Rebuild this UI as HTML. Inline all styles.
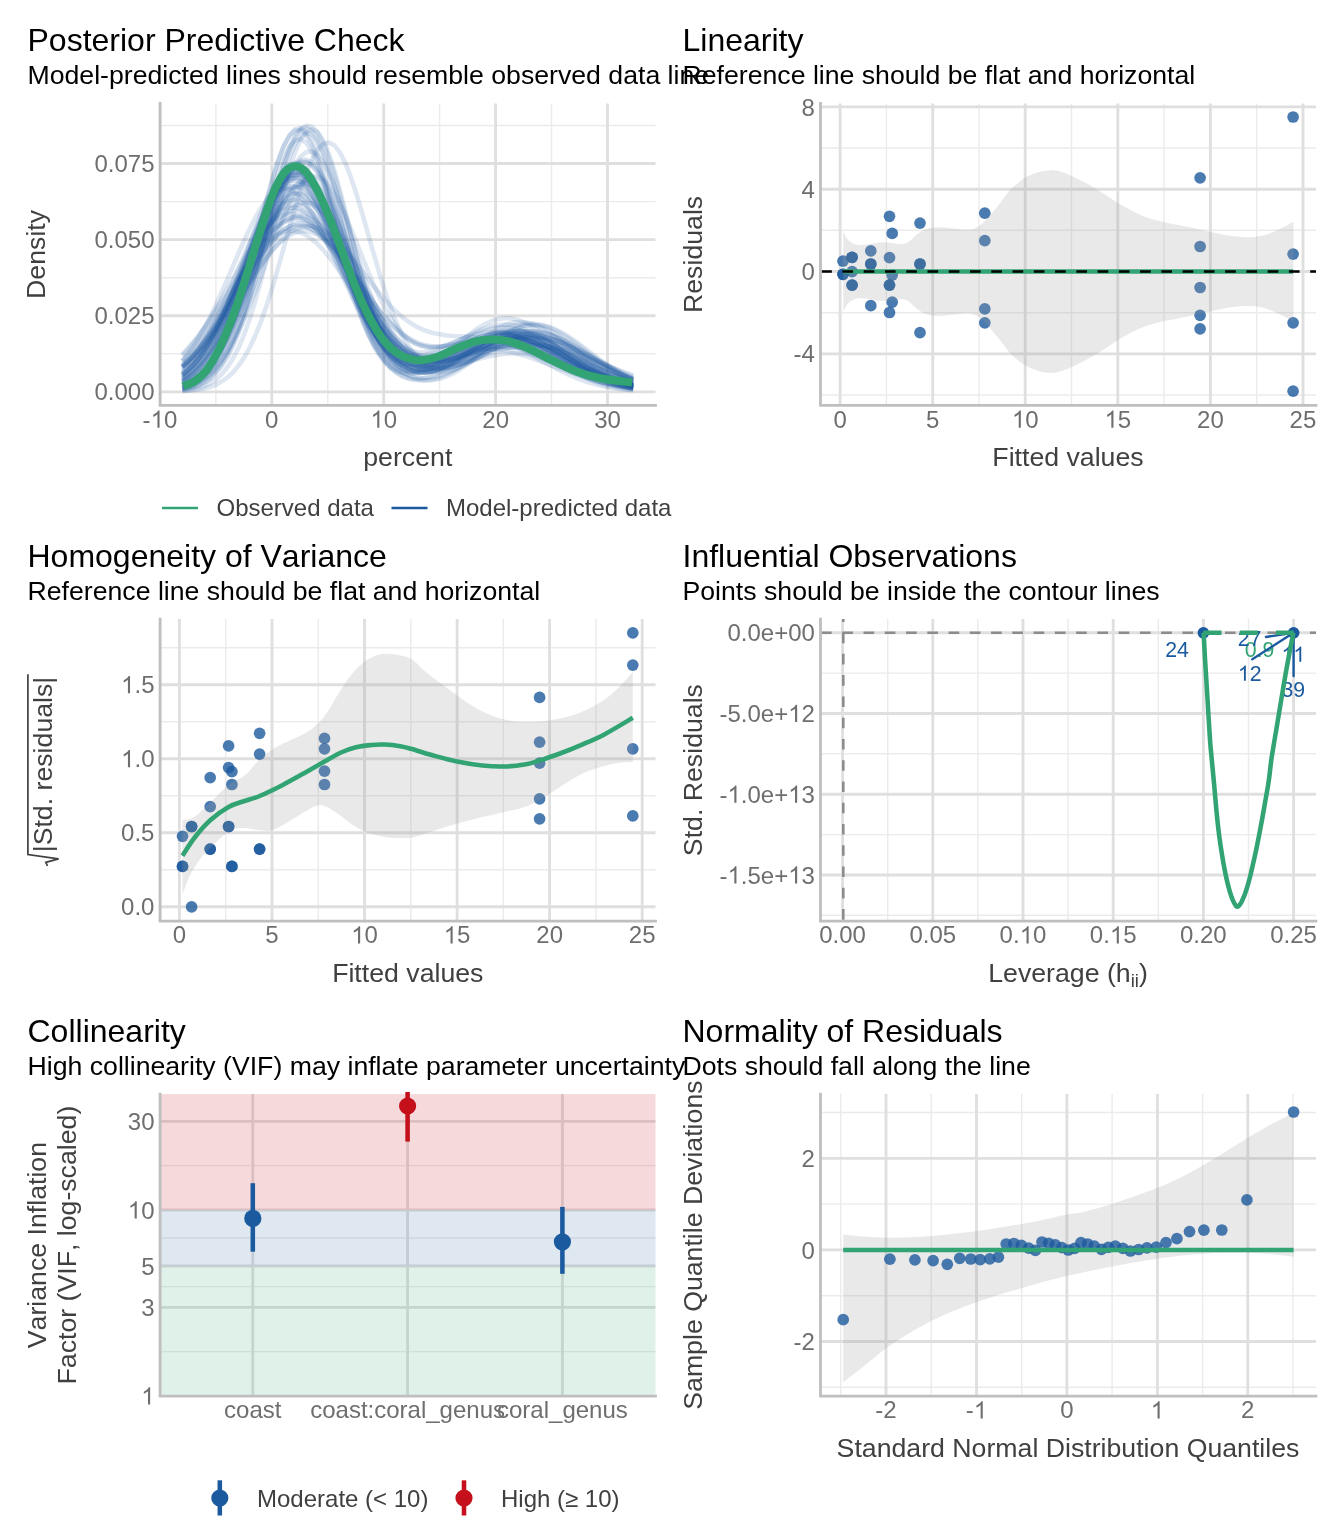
<!DOCTYPE html><html><head><meta charset="utf-8"><style>html,body{margin:0;padding:0;background:#fff}svg{display:block;will-change:transform}text{font-family:"Liberation Sans",sans-serif;font-kerning:none;font-variant-ligatures:none}</style></head><body>
<svg width="1344" height="1536" viewBox="0 0 1344 1536">
<rect width="1344" height="1536" fill="#fff"/>
<g id="p1">
<path d="M160.1 353.8H655.5" stroke="#ebebeb" stroke-width="1.42"/>
<path d="M160.1 277.7H655.5" stroke="#ebebeb" stroke-width="1.42"/>
<path d="M160.1 201.6H655.5" stroke="#ebebeb" stroke-width="1.42"/>
<path d="M160.1 125.5H655.5" stroke="#ebebeb" stroke-width="1.42"/>
<path d="M215.9 103.4V405.4" stroke="#ebebeb" stroke-width="1.42"/>
<path d="M327.8 103.4V405.4" stroke="#ebebeb" stroke-width="1.42"/>
<path d="M439.6 103.4V405.4" stroke="#ebebeb" stroke-width="1.42"/>
<path d="M551.5 103.4V405.4" stroke="#ebebeb" stroke-width="1.42"/>
<path d="M160.1 391.8H655.5" stroke="#dfdfdf" stroke-width="2.85"/>
<path d="M160.1 315.7H655.5" stroke="#dfdfdf" stroke-width="2.85"/>
<path d="M160.1 239.6H655.5" stroke="#dfdfdf" stroke-width="2.85"/>
<path d="M160.1 163.5H655.5" stroke="#dfdfdf" stroke-width="2.85"/>
<path d="M271.8 103.4V405.4" stroke="#dfdfdf" stroke-width="2.85"/>
<path d="M383.7 103.4V405.4" stroke="#dfdfdf" stroke-width="2.85"/>
<path d="M495.6 103.4V405.4" stroke="#dfdfdf" stroke-width="2.85"/>
<path d="M607.5 103.4V405.4" stroke="#dfdfdf" stroke-width="2.85"/>
<g fill="none" stroke="#1b5a9e" stroke-width="4.55" stroke-opacity="0.15" stroke-linejoin="round">
<path d="M182.3 389.9 L187.9 388.8 L193.6 387.3 L199.2 385 L204.8 381.9 L210.5 377.6 L216.1 371.9 L221.7 364.4 L227.4 354.9 L233 343.2 L238.6 329.1 L244.3 312.5 L249.9 293.6 L255.6 272.7 L261.2 250.3 L266.8 227.2 L272.5 204.3 L278.1 182.6 L283.7 163.3 L289.4 147.3 L295 135.6 L300.7 128.8 L306.3 127.4 L311.9 131.5 L317.6 140.8 L323.2 154.8 L328.8 172.5 L334.5 193 L340.1 215.2 L345.8 238 L351.4 260.4 L357 281.6 L362.7 300.9 L368.3 317.9 L373.9 332.3 L379.6 344.2 L385.2 353.6 L390.8 360.6 L396.5 365.6 L402.1 368.8 L407.8 370.5 L413.4 371 L419 370.5 L424.7 369.2 L430.3 367.4 L435.9 365.1 L441.6 362.6 L447.2 359.8 L452.9 356.9 L458.5 354 L464.1 351.2 L469.8 348.5 L475.4 346 L481 343.7 L486.7 341.8 L492.3 340.2 L497.9 339 L503.6 338.3 L509.2 338 L514.9 338.2 L520.5 338.8 L526.1 339.9 L531.8 341.3 L537.4 343.2 L543 345.4 L548.7 347.9 L554.3 350.6 L560 353.4 L565.6 356.4 L571.2 359.4 L576.9 362.4 L582.5 365.4 L588.1 368.2 L593.8 371 L599.4 373.5 L605.1 375.9 L610.7 378.1 L616.3 380.1 L622 381.9 L627.6 383.5 L633.2 384.9"/>
<path d="M182.3 373.9 L187.9 369.4 L193.6 364 L199.2 357.8 L204.8 350.6 L210.5 342.5 L216.1 333.4 L221.7 323.4 L227.4 312.6 L233 301.1 L238.6 289 L244.3 276.7 L249.9 264.4 L255.6 252.2 L261.2 240.6 L266.8 229.9 L272.5 220.4 L278.1 212.3 L283.7 205.9 L289.4 201.4 L295 198.9 L300.7 198.6 L306.3 200.4 L311.9 204.4 L317.6 210.2 L323.2 217.8 L328.8 226.9 L334.5 237.2 L340.1 248.4 L345.8 260.2 L351.4 272.3 L357 284.3 L362.7 296.1 L368.3 307.2 L373.9 317.6 L379.6 327.1 L385.2 335.6 L390.8 342.9 L396.5 349.2 L402.1 354.3 L407.8 358.3 L413.4 361.2 L419 363.1 L424.7 364.2 L430.3 364.5 L435.9 364 L441.6 362.9 L447.2 361.4 L452.9 359.4 L458.5 357.1 L464.1 354.6 L469.8 352.1 L475.4 349.5 L481 347 L486.7 344.6 L492.3 342.5 L497.9 340.7 L503.6 339.3 L509.2 338.2 L514.9 337.6 L520.5 337.5 L526.1 337.8 L531.8 338.5 L537.4 339.8 L543 341.4 L548.7 343.4 L554.3 345.7 L560 348.3 L565.6 351.1 L571.2 354 L576.9 357.1 L582.5 360.1 L588.1 363.2 L593.8 366.2 L599.4 369 L605.1 371.8 L610.7 374.3 L616.3 376.7 L622 378.8 L627.6 380.8 L633.2 382.5"/>
<path d="M182.3 383.7 L187.9 380.9 L193.6 377.4 L199.2 373 L204.8 367.6 L210.5 361.1 L216.1 353.3 L221.7 344.3 L227.4 334.1 L233 322.5 L238.6 309.8 L244.3 296.2 L249.9 281.8 L255.6 267 L261.2 252.2 L266.8 237.8 L272.5 224.2 L278.1 212.1 L283.7 201.7 L289.4 193.5 L295 187.8 L300.7 184.9 L306.3 184.8 L311.9 187.5 L317.6 193 L323.2 201 L328.8 211.1 L334.5 223 L340.1 236.2 L345.8 250.1 L351.4 264.4 L357 278.6 L362.7 292.2 L368.3 305 L373.9 316.7 L379.6 327.2 L385.2 336.2 L390.8 343.7 L396.5 349.8 L402.1 354.6 L407.8 358 L413.4 360.3 L419 361.6 L424.7 362 L430.3 361.6 L435.9 360.6 L441.6 359.1 L447.2 357.3 L452.9 355.2 L458.5 352.9 L464.1 350.5 L469.8 348.2 L475.4 345.9 L481 343.8 L486.7 341.9 L492.3 340.2 L497.9 338.8 L503.6 337.8 L509.2 337.1 L514.9 336.7 L520.5 336.8 L526.1 337.2 L531.8 338 L537.4 339.1 L543 340.6 L548.7 342.3 L554.3 344.4 L560 346.6 L565.6 349.1 L571.2 351.7 L576.9 354.4 L582.5 357.1 L588.1 359.9 L593.8 362.7 L599.4 365.4 L605.1 368 L610.7 370.5 L616.3 372.9 L622 375.1 L627.6 377.2 L633.2 379.1"/>
<path d="M182.3 372.1 L187.9 367.1 L193.6 361.2 L199.2 354.4 L204.8 346.4 L210.5 337.5 L216.1 327.5 L221.7 316.5 L227.4 304.7 L233 292.2 L238.6 279.1 L244.3 265.8 L249.9 252.6 L255.6 239.7 L261.2 227.5 L266.8 216.4 L272.5 206.6 L278.1 198.5 L283.7 192.4 L289.4 188.4 L295 186.7 L300.7 187.3 L306.3 190.2 L311.9 195.4 L317.6 202.6 L323.2 211.6 L328.8 222.1 L334.5 233.7 L340.1 246.2 L345.8 259.2 L351.4 272.3 L357 285.2 L362.7 297.7 L368.3 309.4 L373.9 320.3 L379.6 330.1 L385.2 338.8 L390.8 346.3 L396.5 352.6 L402.1 357.8 L407.8 361.8 L413.4 364.8 L419 366.8 L424.7 367.9 L430.3 368.2 L435.9 367.9 L441.6 366.9 L447.2 365.6 L452.9 363.8 L458.5 361.7 L464.1 359.5 L469.8 357.2 L475.4 354.9 L481 352.7 L486.7 350.6 L492.3 348.7 L497.9 347.1 L503.6 345.9 L509.2 345.1 L514.9 344.6 L520.5 344.6 L526.1 345 L531.8 345.8 L537.4 347 L543 348.5 L548.7 350.4 L554.3 352.6 L560 355 L565.6 357.5 L571.2 360.2 L576.9 362.9 L582.5 365.7 L588.1 368.3 L593.8 370.9 L599.4 373.4 L605.1 375.8 L610.7 377.9 L616.3 379.9 L622 381.7 L627.6 383.3 L633.2 384.7"/>
<path d="M182.3 377.9 L187.9 373.6 L193.6 368.3 L199.2 361.9 L204.8 354.2 L210.5 345.3 L216.1 334.9 L221.7 323.3 L227.4 310.4 L233 296.4 L238.6 281.5 L244.3 266 L249.9 250.3 L255.6 234.9 L261.2 220.1 L266.8 206.6 L272.5 194.7 L278.1 184.9 L283.7 177.6 L289.4 173.1 L295 171.5 L300.7 173 L306.3 177.4 L311.9 184.6 L317.6 194.3 L323.2 206.1 L328.8 219.5 L334.5 234.1 L340.1 249.4 L345.8 264.9 L351.4 280.1 L357 294.7 L362.7 308.3 L368.3 320.8 L373.9 331.9 L379.6 341.6 L385.2 349.8 L390.8 356.6 L396.5 362 L402.1 366.1 L407.8 369 L413.4 370.9 L419 371.9 L424.7 372.1 L430.3 371.6 L435.9 370.6 L441.6 369.1 L447.2 367.3 L452.9 365.2 L458.5 362.9 L464.1 360.5 L469.8 358.1 L475.4 355.7 L481 353.4 L486.7 351.2 L492.3 349.2 L497.9 347.5 L503.6 346 L509.2 344.9 L514.9 344.1 L520.5 343.8 L526.1 343.8 L531.8 344.1 L537.4 344.9 L543 346 L548.7 347.4 L554.3 349.2 L560 351.2 L565.6 353.4 L571.2 355.8 L576.9 358.3 L582.5 360.9 L588.1 363.5 L593.8 366.1 L599.4 368.6 L605.1 371.1 L610.7 373.4 L616.3 375.7 L622 377.7 L627.6 379.6 L633.2 381.3"/>
<path d="M182.3 367.4 L187.9 362.1 L193.6 355.9 L199.2 349 L204.8 341.2 L210.5 332.5 L216.1 323.1 L221.7 313 L227.4 302.3 L233 291.2 L238.6 279.9 L244.3 268.5 L249.9 257.3 L255.6 246.6 L261.2 236.7 L266.8 227.7 L272.5 219.9 L278.1 213.6 L283.7 208.9 L289.4 205.9 L295 204.8 L300.7 205.6 L306.3 208.3 L311.9 212.7 L317.6 218.7 L323.2 226.2 L328.8 235 L334.5 244.7 L340.1 255.1 L345.8 266 L351.4 277.1 L357 288 L362.7 298.7 L368.3 308.8 L373.9 318.3 L379.6 326.9 L385.2 334.5 L390.8 341.1 L396.5 346.7 L402.1 351.1 L407.8 354.5 L413.4 356.8 L419 358.2 L424.7 358.7 L430.3 358.4 L435.9 357.4 L441.6 355.8 L447.2 353.7 L452.9 351.3 L458.5 348.7 L464.1 346.1 L469.8 343.5 L475.4 341.1 L481 338.9 L486.7 337.1 L492.3 335.8 L497.9 335 L503.6 334.8 L509.2 335.1 L514.9 336.1 L520.5 337.5 L526.1 339.5 L531.8 341.9 L537.4 344.7 L543 347.9 L548.7 351.2 L554.3 354.7 L560 358.2 L565.6 361.8 L571.2 365.2 L576.9 368.5 L582.5 371.6 L588.1 374.5 L593.8 377.1 L599.4 379.4 L605.1 381.5 L610.7 383.4 L616.3 384.9 L622 386.3 L627.6 387.4 L633.2 388.3"/>
<path d="M182.3 389.9 L187.9 388.9 L193.6 387.4 L199.2 385.3 L204.8 382.3 L210.5 378.3 L216.1 372.9 L221.7 366 L227.4 357.1 L233 346.2 L238.6 333 L244.3 317.5 L249.9 299.7 L255.6 280.1 L261.2 258.9 L266.8 236.8 L272.5 214.7 L278.1 193.4 L283.7 174 L289.4 157.4 L295 144.6 L300.7 136.2 L306.3 132.8 L311.9 134.6 L317.6 141.4 L323.2 152.7 L328.8 168.1 L334.5 186.4 L340.1 206.9 L345.8 228.4 L351.4 250 L357 270.8 L362.7 290.2 L368.3 307.5 L373.9 322.6 L379.6 335.1 L385.2 345.2 L390.8 352.9 L396.5 358.5 L402.1 362.2 L407.8 364.4 L413.4 365.1 L419 364.9 L424.7 363.8 L430.3 362 L435.9 359.9 L441.6 357.4 L447.2 354.8 L452.9 352.1 L458.5 349.5 L464.1 347 L469.8 344.7 L475.4 342.7 L481 341 L486.7 339.7 L492.3 338.7 L497.9 338.3 L503.6 338.2 L509.2 338.6 L514.9 339.5 L520.5 340.7 L526.1 342.4 L531.8 344.4 L537.4 346.6 L543 349.2 L548.7 351.9 L554.3 354.8 L560 357.7 L565.6 360.7 L571.2 363.6 L576.9 366.5 L582.5 369.3 L588.1 371.9 L593.8 374.4 L599.4 376.7 L605.1 378.8 L610.7 380.7 L616.3 382.4 L622 383.9 L627.6 385.2 L633.2 386.4"/>
<path d="M182.3 375.2 L187.9 370.6 L193.6 365.2 L199.2 358.8 L204.8 351.3 L210.5 342.8 L216.1 333.2 L221.7 322.5 L227.4 310.9 L233 298.6 L238.6 285.6 L244.3 272.4 L249.9 259.1 L255.6 246.1 L261.2 233.8 L266.8 222.6 L272.5 212.8 L278.1 204.7 L283.7 198.7 L289.4 194.9 L295 193.4 L300.7 194.4 L306.3 197.8 L311.9 203.5 L317.6 211.2 L323.2 220.7 L328.8 231.7 L334.5 243.8 L340.1 256.7 L345.8 269.9 L351.4 283.1 L357 296 L362.7 308.3 L368.3 319.9 L373.9 330.4 L379.6 339.8 L385.2 348.1 L390.8 355.1 L396.5 360.8 L402.1 365.4 L407.8 368.8 L413.4 371.1 L419 372.3 L424.7 372.5 L430.3 371.9 L435.9 370.4 L441.6 368.2 L447.2 365.3 L452.9 361.8 L458.5 357.9 L464.1 353.6 L469.8 349.1 L475.4 344.6 L481 340.1 L486.7 335.8 L492.3 331.9 L497.9 328.4 L503.6 325.6 L509.2 323.6 L514.9 322.3 L520.5 322 L526.1 322.5 L531.8 323.8 L537.4 326 L543 328.9 L548.7 332.4 L554.3 336.4 L560 340.8 L565.6 345.5 L571.2 350.2 L576.9 354.9 L582.5 359.5 L588.1 363.9 L593.8 368 L599.4 371.8 L605.1 375.1 L610.7 378.1 L616.3 380.7 L622 382.9 L627.6 384.8 L633.2 386.3"/>
<path d="M182.3 376.7 L187.9 372.9 L193.6 368.3 L199.2 363 L204.8 356.9 L210.5 349.9 L216.1 341.9 L221.7 333.2 L227.4 323.6 L233 313.2 L238.6 302.3 L244.3 290.9 L249.9 279.2 L255.6 267.4 L261.2 255.9 L266.8 244.8 L272.5 234.6 L278.1 225.3 L283.7 217.4 L289.4 211 L295 206.3 L300.7 203.4 L306.3 202.6 L311.9 203.7 L317.6 206.7 L323.2 211.6 L328.8 218.2 L334.5 226.3 L340.1 235.6 L345.8 246 L351.4 257.1 L357 268.5 L362.7 280.2 L368.3 291.7 L373.9 302.9 L379.6 313.6 L385.2 323.5 L390.8 332.6 L396.5 340.7 L402.1 347.9 L407.8 353.9 L413.4 358.9 L419 362.9 L424.7 365.8 L430.3 367.7 L435.9 368.7 L441.6 368.9 L447.2 368.2 L452.9 366.8 L458.5 364.8 L464.1 362.2 L469.8 359.2 L475.4 355.9 L481 352.4 L486.7 348.8 L492.3 345.2 L497.9 341.9 L503.6 338.8 L509.2 336.1 L514.9 333.9 L520.5 332.2 L526.1 331.3 L531.8 331 L537.4 331.4 L543 332.5 L548.7 334.2 L554.3 336.6 L560 339.4 L565.6 342.7 L571.2 346.3 L576.9 350.1 L582.5 354.1 L588.1 358.1 L593.8 362 L599.4 365.7 L605.1 369.3 L610.7 372.5 L616.3 375.5 L622 378.2 L627.6 380.6 L633.2 382.7"/>
<path d="M182.3 387.2 L187.9 385.4 L193.6 383.1 L199.2 380.2 L204.8 376.4 L210.5 371.8 L216.1 366 L221.7 359.1 L227.4 351 L233 341.5 L238.6 330.6 L244.3 318.5 L249.9 305.2 L255.6 290.9 L261.2 275.8 L266.8 260.4 L272.5 245.1 L278.1 230.2 L283.7 216.2 L289.4 203.8 L295 193.2 L300.7 184.9 L306.3 179.3 L311.9 176.5 L317.6 176.7 L323.2 179.8 L328.8 185.6 L334.5 193.9 L340.1 204.3 L345.8 216.5 L351.4 229.8 L357 243.8 L362.7 258 L368.3 271.9 L373.9 285.2 L379.6 297.5 L385.2 308.5 L390.8 318.2 L396.5 326.3 L402.1 333 L407.8 338.2 L413.4 342.1 L419 344.7 L424.7 346.3 L430.3 347 L435.9 347 L441.6 346.4 L447.2 345.4 L452.9 344.2 L458.5 343 L464.1 341.7 L469.8 340.6 L475.4 339.7 L481 339 L486.7 338.7 L492.3 338.7 L497.9 339.1 L503.6 339.9 L509.2 341 L514.9 342.5 L520.5 344.3 L526.1 346.3 L531.8 348.7 L537.4 351.2 L543 353.8 L548.7 356.6 L554.3 359.4 L560 362.2 L565.6 364.9 L571.2 367.6 L576.9 370.2 L582.5 372.7 L588.1 375 L593.8 377.1 L599.4 379.1 L605.1 380.9 L610.7 382.5 L616.3 383.9 L622 385.2 L627.6 386.3 L633.2 387.3"/>
<path d="M182.3 384.8 L187.9 382.2 L193.6 378.8 L199.2 374.5 L204.8 369.1 L210.5 362.5 L216.1 354.5 L221.7 345 L227.4 334 L233 321.4 L238.6 307.5 L244.3 292.2 L249.9 276 L255.6 259.1 L261.2 242 L266.8 225.2 L272.5 209.3 L278.1 194.9 L283.7 182.4 L289.4 172.5 L295 165.6 L300.7 161.8 L306.3 161.5 L311.9 164.7 L317.6 171.1 L323.2 180.5 L328.8 192.5 L334.5 206.5 L340.1 222.1 L345.8 238.6 L351.4 255.5 L357 272.2 L362.7 288.2 L368.3 303.1 L373.9 316.7 L379.6 328.7 L385.2 339 L390.8 347.5 L396.5 354.3 L402.1 359.3 L407.8 362.9 L413.4 364.9 L419 365.7 L424.7 365.4 L430.3 364.1 L435.9 362 L441.6 359.3 L447.2 356.2 L452.9 352.7 L458.5 349.2 L464.1 345.6 L469.8 342.3 L475.4 339.2 L481 336.6 L486.7 334.6 L492.3 333.2 L497.9 332.6 L503.6 332.6 L509.2 333.4 L514.9 334.9 L520.5 337.1 L526.1 339.8 L531.8 343 L537.4 346.6 L543 350.5 L548.7 354.5 L554.3 358.5 L560 362.5 L565.6 366.3 L571.2 369.9 L576.9 373.2 L582.5 376.2 L588.1 378.9 L593.8 381.3 L599.4 383.3 L605.1 385.1 L610.7 386.5 L616.3 387.7 L622 388.6 L627.6 389.4 L633.2 390"/>
<path d="M182.3 373.9 L187.9 369.2 L193.6 363.6 L199.2 357 L204.8 349.4 L210.5 340.7 L216.1 331.1 L221.7 320.4 L227.4 309 L233 296.8 L238.6 284.2 L244.3 271.4 L249.9 258.7 L255.6 246.5 L261.2 235 L266.8 224.6 L272.5 215.8 L278.1 208.7 L283.7 203.6 L289.4 200.7 L295 200.1 L300.7 201.9 L306.3 205.9 L311.9 212 L317.6 220 L323.2 229.6 L328.8 240.5 L334.5 252.3 L340.1 264.7 L345.8 277.3 L351.4 289.8 L357 301.9 L362.7 313.4 L368.3 323.9 L373.9 333.4 L379.6 341.7 L385.2 348.7 L390.8 354.5 L396.5 359 L402.1 362.2 L407.8 364.2 L413.4 365.1 L419 364.9 L424.7 363.7 L430.3 361.7 L435.9 359 L441.6 355.6 L447.2 351.7 L452.9 347.4 L458.5 343 L464.1 338.5 L469.8 334.2 L475.4 330.1 L481 326.4 L486.7 323.3 L492.3 320.8 L497.9 319.2 L503.6 318.3 L509.2 318.3 L514.9 319.2 L520.5 320.9 L526.1 323.4 L531.8 326.6 L537.4 330.4 L543 334.7 L548.7 339.3 L554.3 344.1 L560 348.9 L565.6 353.8 L571.2 358.5 L576.9 362.9 L582.5 367.1 L588.1 370.9 L593.8 374.3 L599.4 377.4 L605.1 380 L610.7 382.3 L616.3 384.2 L622 385.9 L627.6 387.2 L633.2 388.2"/>
<path d="M182.3 386.8 L187.9 384.8 L193.6 382 L199.2 378.4 L204.8 373.8 L210.5 367.9 L216.1 360.7 L221.7 351.9 L227.4 341.5 L233 329.3 L238.6 315.6 L244.3 300.3 L249.9 283.8 L255.6 266.4 L261.2 248.6 L266.8 230.8 L272.5 213.9 L278.1 198.4 L283.7 185 L289.4 174.2 L295 166.7 L300.7 162.7 L306.3 162.4 L311.9 165.8 L317.6 172.9 L323.2 183.1 L328.8 196.1 L334.5 211.2 L340.1 227.8 L345.8 245.2 L351.4 262.8 L357 279.9 L362.7 296 L368.3 310.8 L373.9 324 L379.6 335.4 L385.2 345 L390.8 352.7 L396.5 358.6 L402.1 362.8 L407.8 365.6 L413.4 367 L419 367.3 L424.7 366.7 L430.3 365.2 L435.9 363.1 L441.6 360.5 L447.2 357.5 L452.9 354.3 L458.5 350.9 L464.1 347.5 L469.8 344.2 L475.4 341.1 L481 338.2 L486.7 335.8 L492.3 333.7 L497.9 332.2 L503.6 331.2 L509.2 330.7 L514.9 330.9 L520.5 331.6 L526.1 332.9 L531.8 334.7 L537.4 337 L543 339.7 L548.7 342.7 L554.3 346 L560 349.5 L565.6 353.1 L571.2 356.8 L576.9 360.4 L582.5 363.9 L588.1 367.2 L593.8 370.4 L599.4 373.3 L605.1 376 L610.7 378.4 L616.3 380.6 L622 382.5 L627.6 384.1 L633.2 385.5"/>
<path d="M182.3 354.3 L187.9 348.3 L193.6 341.8 L199.2 334.8 L204.8 327.3 L210.5 319.4 L216.1 311.1 L221.7 302.6 L227.4 294 L233 285.3 L238.6 276.9 L244.3 268.7 L249.9 260.9 L255.6 253.8 L261.2 247.4 L266.8 241.9 L272.5 237.4 L278.1 234 L283.7 231.7 L289.4 230.7 L295 231 L300.7 232.5 L306.3 235.3 L311.9 239.2 L317.6 244.1 L323.2 250 L328.8 256.7 L334.5 264.1 L340.1 272 L345.8 280.2 L351.4 288.6 L357 297 L362.7 305.4 L368.3 313.4 L373.9 321.1 L379.6 328.3 L385.2 334.9 L390.8 340.9 L396.5 346.1 L402.1 350.5 L407.8 354.2 L413.4 357 L419 359 L424.7 360.3 L430.3 360.8 L435.9 360.5 L441.6 359.6 L447.2 358.2 L452.9 356.2 L458.5 353.7 L464.1 351 L469.8 348.1 L475.4 345.1 L481 342.1 L486.7 339.3 L492.3 336.7 L497.9 334.5 L503.6 332.7 L509.2 331.5 L514.9 330.8 L520.5 330.7 L526.1 331.2 L531.8 332.4 L537.4 334.1 L543 336.4 L548.7 339.1 L554.3 342.3 L560 345.7 L565.6 349.3 L571.2 353.1 L576.9 356.9 L582.5 360.6 L588.1 364.3 L593.8 367.8 L599.4 371 L605.1 374 L610.7 376.8 L616.3 379.2 L622 381.4 L627.6 383.2 L633.2 384.9"/>
<path d="M182.3 385.5 L187.9 383.1 L193.6 380 L199.2 376 L204.8 371 L210.5 364.9 L216.1 357.4 L221.7 348.5 L227.4 338.1 L233 326.3 L238.6 313.1 L244.3 298.6 L249.9 283.1 L255.6 267 L261.2 250.6 L266.8 234.5 L272.5 219.2 L278.1 205.2 L283.7 193.1 L289.4 183.5 L295 176.7 L300.7 172.9 L306.3 172.5 L311.9 175.3 L317.6 181.3 L323.2 190.1 L328.8 201.4 L334.5 214.7 L340.1 229.5 L345.8 245 L351.4 260.9 L357 276.5 L362.7 291.4 L368.3 305.2 L373.9 317.7 L379.6 328.6 L385.2 337.9 L390.8 345.4 L396.5 351.4 L402.1 355.7 L407.8 358.6 L413.4 360.3 L419 360.8 L424.7 360.3 L430.3 359.1 L435.9 357.3 L441.6 355 L447.2 352.4 L452.9 349.6 L458.5 346.8 L464.1 344 L469.8 341.3 L475.4 338.9 L481 336.8 L486.7 335.1 L492.3 333.8 L497.9 333 L503.6 332.7 L509.2 332.9 L514.9 333.6 L520.5 334.8 L526.1 336.5 L531.8 338.5 L537.4 341 L543 343.8 L548.7 346.8 L554.3 350 L560 353.3 L565.6 356.6 L571.2 360 L576.9 363.2 L582.5 366.4 L588.1 369.4 L593.8 372.2 L599.4 374.8 L605.1 377.2 L610.7 379.4 L616.3 381.3 L622 383.1 L627.6 384.6 L633.2 385.8"/>
<path d="M182.3 366.9 L187.9 361.9 L193.6 356.2 L199.2 349.8 L204.8 342.7 L210.5 335 L216.1 326.6 L221.7 317.6 L227.4 308.1 L233 298.3 L238.6 288.2 L244.3 278.1 L249.9 268.1 L255.6 258.5 L261.2 249.3 L266.8 241 L272.5 233.5 L278.1 227.1 L283.7 222.1 L289.4 218.4 L295 216.2 L300.7 215.6 L306.3 216.5 L311.9 219 L317.6 223 L323.2 228.3 L328.8 234.8 L334.5 242.4 L340.1 250.8 L345.8 259.8 L351.4 269.3 L357 279 L362.7 288.7 L368.3 298.2 L373.9 307.4 L379.6 316 L385.2 324 L390.8 331.3 L396.5 337.8 L402.1 343.4 L407.8 348.1 L413.4 352 L419 355 L424.7 357.2 L430.3 358.6 L435.9 359.4 L441.6 359.5 L447.2 359 L452.9 358.1 L458.5 356.9 L464.1 355.3 L469.8 353.6 L475.4 351.7 L481 349.9 L486.7 348.1 L492.3 346.4 L497.9 344.9 L503.6 343.7 L509.2 342.8 L514.9 342.2 L520.5 342 L526.1 342.2 L531.8 342.8 L537.4 343.7 L543 345 L548.7 346.6 L554.3 348.5 L560 350.6 L565.6 353 L571.2 355.5 L576.9 358.2 L582.5 360.8 L588.1 363.5 L593.8 366.2 L599.4 368.8 L605.1 371.3 L610.7 373.7 L616.3 376 L622 378 L627.6 379.9 L633.2 381.6"/>
<path d="M182.3 385.3 L187.9 383 L193.6 379.9 L199.2 376 L204.8 371.2 L210.5 365.3 L216.1 358.2 L221.7 349.7 L227.4 340 L233 328.8 L238.6 316.4 L244.3 302.8 L249.9 288.3 L255.6 273.1 L261.2 257.7 L266.8 242.5 L272.5 227.9 L278.1 214.5 L283.7 202.7 L289.4 193 L295 185.9 L300.7 181.5 L306.3 180.1 L311.9 181.7 L317.6 186.2 L323.2 193.4 L328.8 203 L334.5 214.6 L340.1 227.7 L345.8 241.8 L351.4 256.3 L357 270.7 L362.7 284.7 L368.3 297.8 L373.9 309.7 L379.6 320.2 L385.2 329.2 L390.8 336.7 L396.5 342.5 L402.1 346.9 L407.8 349.8 L413.4 351.5 L419 352.2 L424.7 351.9 L430.3 350.8 L435.9 349.2 L441.6 347.2 L447.2 345 L452.9 342.6 L458.5 340.3 L464.1 338 L469.8 336 L475.4 334.4 L481 333.1 L486.7 332.2 L492.3 331.8 L497.9 331.8 L503.6 332.4 L509.2 333.4 L514.9 334.9 L520.5 336.8 L526.1 339.1 L531.8 341.7 L537.4 344.6 L543 347.6 L548.7 350.8 L554.3 354.1 L560 357.5 L565.6 360.7 L571.2 364 L576.9 367 L582.5 370 L588.1 372.7 L593.8 375.2 L599.4 377.5 L605.1 379.6 L610.7 381.5 L616.3 383.2 L622 384.6 L627.6 385.9 L633.2 387"/>
<path d="M182.3 391.2 L187.9 390.8 L193.6 390.3 L199.2 389.5 L204.8 388.4 L210.5 386.8 L216.1 384.6 L221.7 381.5 L227.4 377.5 L233 372.3 L238.6 365.6 L244.3 357.3 L249.9 347.1 L255.6 335 L261.2 320.9 L266.8 304.9 L272.5 287.1 L278.1 267.9 L283.7 247.9 L289.4 227.6 L295 207.8 L300.7 189.4 L306.3 173 L311.9 159.5 L317.6 149.6 L323.2 143.9 L328.8 142.5 L334.5 145.5 L340.1 152.9 L345.8 164.1 L351.4 178.7 L357 195.9 L362.7 214.8 L368.3 234.6 L373.9 254.5 L379.6 273.9 L385.2 292 L390.8 308.4 L396.5 322.9 L402.1 335.1 L407.8 345.2 L413.4 353 L419 358.8 L424.7 362.7 L430.3 365 L435.9 365.8 L441.6 365.3 L447.2 363.9 L452.9 361.6 L458.5 358.7 L464.1 355.4 L469.8 351.8 L475.4 348.2 L481 344.6 L486.7 341.1 L492.3 338.1 L497.9 335.4 L503.6 333.4 L509.2 331.9 L514.9 331.2 L520.5 331.1 L526.1 331.8 L531.8 333.2 L537.4 335.3 L543 337.9 L548.7 341 L554.3 344.5 L560 348.3 L565.6 352.2 L571.2 356.2 L576.9 360.2 L582.5 364.1 L588.1 367.8 L593.8 371.3 L599.4 374.4 L605.1 377.3 L610.7 379.8 L616.3 382 L622 383.9 L627.6 385.5 L633.2 386.8"/>
<path d="M182.3 388.7 L187.9 387.1 L193.6 384.8 L199.2 381.6 L204.8 377.3 L210.5 371.6 L216.1 364.3 L221.7 355 L227.4 343.6 L233 329.9 L238.6 313.9 L244.3 295.8 L249.9 275.9 L255.6 254.7 L261.2 232.8 L266.8 211.2 L272.5 190.8 L278.1 172.7 L283.7 157.7 L289.4 146.7 L295 140.4 L300.7 139.1 L306.3 142.9 L311.9 151.6 L317.6 164.7 L323.2 181.3 L328.8 200.5 L334.5 221.4 L340.1 243 L345.8 264.2 L351.4 284.4 L357 302.9 L362.7 319.3 L368.3 333.3 L373.9 344.9 L379.6 354.1 L385.2 361.2 L390.8 366.2 L396.5 369.6 L402.1 371.5 L407.8 372.2 L413.4 371.9 L419 370.9 L424.7 369.3 L430.3 367.2 L435.9 364.7 L441.6 362.1 L447.2 359.2 L452.9 356.2 L458.5 353.3 L464.1 350.3 L469.8 347.5 L475.4 344.9 L481 342.4 L486.7 340.3 L492.3 338.4 L497.9 337 L503.6 335.9 L509.2 335.2 L514.9 335 L520.5 335.2 L526.1 335.9 L531.8 337 L537.4 338.5 L543 340.3 L548.7 342.5 L554.3 344.9 L560 347.6 L565.6 350.5 L571.2 353.4 L576.9 356.4 L582.5 359.5 L588.1 362.5 L593.8 365.4 L599.4 368.3 L605.1 370.9 L610.7 373.5 L616.3 375.8 L622 378 L627.6 379.9 L633.2 381.7"/>
<path d="M182.3 378.8 L187.9 375 L193.6 370.3 L199.2 364.7 L204.8 358.1 L210.5 350.5 L216.1 341.7 L221.7 331.8 L227.4 320.9 L233 309 L238.6 296.3 L244.3 283.1 L249.9 269.6 L255.6 256.1 L261.2 243.1 L266.8 230.9 L272.5 219.8 L278.1 210.3 L283.7 202.6 L289.4 197.1 L295 193.9 L300.7 193.3 L306.3 195.1 L311.9 199.3 L317.6 205.8 L323.2 214.3 L328.8 224.5 L334.5 236.1 L340.1 248.7 L345.8 261.8 L351.4 275.1 L357 288.3 L362.7 301 L368.3 313 L373.9 324.1 L379.6 334 L385.2 342.7 L390.8 350.2 L396.5 356.4 L402.1 361.3 L407.8 365.1 L413.4 367.8 L419 369.5 L424.7 370.3 L430.3 370.2 L435.9 369.4 L441.6 367.9 L447.2 366 L452.9 363.6 L458.5 360.8 L464.1 357.8 L469.8 354.6 L475.4 351.3 L481 348 L486.7 344.7 L492.3 341.7 L497.9 338.9 L503.6 336.4 L509.2 334.3 L514.9 332.7 L520.5 331.6 L526.1 330.9 L531.8 330.9 L537.4 331.3 L543 332.3 L548.7 333.8 L554.3 335.8 L560 338.2 L565.6 340.9 L571.2 343.9 L576.9 347.2 L582.5 350.6 L588.1 354.1 L593.8 357.6 L599.4 361.1 L605.1 364.4 L610.7 367.6 L616.3 370.6 L622 373.4 L627.6 376 L633.2 378.4"/>
<path d="M182.3 367 L187.9 362.5 L193.6 357.3 L199.2 351.6 L204.8 345.4 L210.5 338.5 L216.1 331.2 L221.7 323.4 L227.4 315.2 L233 306.7 L238.6 298 L244.3 289.3 L249.9 280.7 L255.6 272.3 L261.2 264.3 L266.8 256.8 L272.5 250 L278.1 244.1 L283.7 239.2 L289.4 235.4 L295 232.7 L300.7 231.3 L306.3 231.2 L311.9 232.4 L317.6 234.8 L323.2 238.3 L328.8 243 L334.5 248.7 L340.1 255.2 L345.8 262.4 L351.4 270.1 L357 278.1 L362.7 286.3 L368.3 294.5 L373.9 302.6 L379.6 310.3 L385.2 317.5 L390.8 324.1 L396.5 330 L402.1 335.1 L407.8 339.4 L413.4 342.8 L419 345.2 L424.7 346.7 L430.3 347.4 L435.9 347.3 L441.6 346.4 L447.2 344.8 L452.9 342.8 L458.5 340.4 L464.1 337.7 L469.8 334.9 L475.4 332.3 L481 329.8 L486.7 327.7 L492.3 326 L497.9 324.9 L503.6 324.5 L509.2 324.7 L514.9 325.6 L520.5 327.2 L526.1 329.5 L531.8 332.4 L537.4 335.8 L543 339.5 L548.7 343.6 L554.3 347.9 L560 352.2 L565.6 356.5 L571.2 360.7 L576.9 364.7 L582.5 368.5 L588.1 372 L593.8 375.1 L599.4 377.9 L605.1 380.4 L610.7 382.6 L616.3 384.4 L622 385.9 L627.6 387.2 L633.2 388.2"/>
<path d="M182.3 379.4 L187.9 375.3 L193.6 370.2 L199.2 363.9 L204.8 356.4 L210.5 347.5 L216.1 337.2 L221.7 325.5 L227.4 312.4 L233 298.2 L238.6 283 L244.3 267.2 L249.9 251.2 L255.6 235.5 L261.2 220.7 L266.8 207.1 L272.5 195.4 L278.1 186.1 L283.7 179.4 L289.4 175.8 L295 175.4 L300.7 178.1 L306.3 183.9 L311.9 192.5 L317.6 203.6 L323.2 216.6 L328.8 231.2 L334.5 246.7 L340.1 262.6 L345.8 278.4 L351.4 293.8 L357 308.3 L362.7 321.6 L368.3 333.6 L373.9 344.1 L379.6 353.2 L385.2 360.7 L390.8 366.9 L396.5 371.8 L402.1 375.5 L407.8 378.1 L413.4 379.7 L419 380.5 L424.7 380.5 L430.3 379.8 L435.9 378.5 L441.6 376.6 L447.2 374.2 L452.9 371.4 L458.5 368.1 L464.1 364.5 L469.8 360.6 L475.4 356.4 L481 352.2 L486.7 347.9 L492.3 343.7 L497.9 339.6 L503.6 335.8 L509.2 332.5 L514.9 329.6 L520.5 327.3 L526.1 325.7 L531.8 324.9 L537.4 324.7 L543 325.4 L548.7 326.7 L554.3 328.8 L560 331.5 L565.6 334.7 L571.2 338.3 L576.9 342.3 L582.5 346.5 L588.1 350.8 L593.8 355.1 L599.4 359.4 L605.1 363.4 L610.7 367.3 L616.3 370.8 L622 374.1 L627.6 377 L633.2 379.6"/>
<path d="M182.3 368.1 L187.9 362.4 L193.6 355.6 L199.2 347.9 L204.8 339.1 L210.5 329.3 L216.1 318.4 L221.7 306.7 L227.4 294.2 L233 281.2 L238.6 267.9 L244.3 254.6 L249.9 241.6 L255.6 229.2 L261.2 217.8 L266.8 207.7 L272.5 199.3 L278.1 192.8 L283.7 188.4 L289.4 186.3 L295 186.5 L300.7 189.1 L306.3 193.9 L311.9 200.8 L317.6 209.5 L323.2 219.8 L328.8 231.3 L334.5 243.7 L340.1 256.6 L345.8 269.6 L351.4 282.5 L357 295 L362.7 306.7 L368.3 317.6 L373.9 327.4 L379.6 336.1 L385.2 343.7 L390.8 350 L396.5 355.1 L402.1 359.1 L407.8 362 L413.4 363.9 L419 365 L424.7 365.4 L430.3 365.1 L435.9 364.2 L441.6 362.9 L447.2 361.3 L452.9 359.5 L458.5 357.5 L464.1 355.5 L469.8 353.5 L475.4 351.7 L481 350 L486.7 348.6 L492.3 347.5 L497.9 346.7 L503.6 346.2 L509.2 346.2 L514.9 346.5 L520.5 347.2 L526.1 348.2 L531.8 349.6 L537.4 351.3 L543 353.3 L548.7 355.4 L554.3 357.8 L560 360.2 L565.6 362.8 L571.2 365.3 L576.9 367.9 L582.5 370.3 L588.1 372.7 L593.8 375 L599.4 377.1 L605.1 379.1 L610.7 380.9 L616.3 382.5 L622 383.9 L627.6 385.2 L633.2 386.3"/>
<path d="M182.3 381.2 L187.9 377.7 L193.6 373.2 L199.2 367.6 L204.8 360.8 L210.5 352.6 L216.1 343.1 L221.7 332.1 L227.4 319.7 L233 306 L238.6 291.2 L244.3 275.5 L249.9 259.3 L255.6 243.1 L261.2 227.3 L266.8 212.5 L272.5 199.2 L278.1 188 L283.7 179.2 L289.4 173.2 L295 170.3 L300.7 170.7 L306.3 174.2 L311.9 180.8 L317.6 190.1 L323.2 201.8 L328.8 215.4 L334.5 230.3 L340.1 246 L345.8 261.9 L351.4 277.6 L357 292.7 L362.7 306.8 L368.3 319.5 L373.9 330.8 L379.6 340.6 L385.2 348.7 L390.8 355.3 L396.5 360.5 L402.1 364.2 L407.8 366.8 L413.4 368.2 L419 368.7 L424.7 368.4 L430.3 367.5 L435.9 366 L441.6 364.1 L447.2 361.9 L452.9 359.5 L458.5 357 L464.1 354.4 L469.8 351.8 L475.4 349.4 L481 347.1 L486.7 345 L492.3 343.3 L497.9 341.8 L503.6 340.7 L509.2 340 L514.9 339.8 L520.5 339.9 L526.1 340.4 L531.8 341.4 L537.4 342.7 L543 344.4 L548.7 346.4 L554.3 348.6 L560 351.1 L565.6 353.7 L571.2 356.5 L576.9 359.3 L582.5 362.1 L588.1 364.9 L593.8 367.7 L599.4 370.3 L605.1 372.8 L610.7 375.1 L616.3 377.3 L622 379.3 L627.6 381.1 L633.2 382.7"/>
<path d="M182.3 388.3 L187.9 386.5 L193.6 383.9 L199.2 380.4 L204.8 375.7 L210.5 369.5 L216.1 361.4 L221.7 351.4 L227.4 339 L233 324.3 L238.6 307.3 L244.3 288.1 L249.9 267.1 L255.6 244.9 L261.2 222.2 L266.8 200 L272.5 179.3 L278.1 161 L283.7 146.3 L289.4 135.9 L295 130.4 L300.7 130.2 L306.3 135.3 L311.9 145.3 L317.6 159.7 L323.2 177.7 L328.8 198.2 L334.5 220.1 L340.1 242.6 L345.8 264.5 L351.4 285.3 L357 304.1 L362.7 320.8 L368.3 334.9 L373.9 346.6 L379.6 355.9 L385.2 362.9 L390.8 368 L396.5 371.3 L402.1 373.2 L407.8 373.9 L413.4 373.7 L419 372.6 L424.7 371 L430.3 368.9 L435.9 366.4 L441.6 363.7 L447.2 360.9 L452.9 357.9 L458.5 354.9 L464.1 352 L469.8 349.2 L475.4 346.6 L481 344.2 L486.7 342.2 L492.3 340.5 L497.9 339.2 L503.6 338.4 L509.2 338 L514.9 338 L520.5 338.6 L526.1 339.6 L531.8 341 L537.4 342.8 L543 345 L548.7 347.4 L554.3 350.1 L560 352.9 L565.6 355.9 L571.2 359 L576.9 362 L582.5 365 L588.1 367.9 L593.8 370.7 L599.4 373.3 L605.1 375.7 L610.7 378 L616.3 380 L622 381.8 L627.6 383.4 L633.2 384.8"/>
<path d="M182.3 376.2 L187.9 371.5 L193.6 365.8 L199.2 358.9 L204.8 350.6 L210.5 341.1 L216.1 330.2 L221.7 317.9 L227.4 304.5 L233 290 L238.6 274.7 L244.3 258.9 L249.9 243.1 L255.6 227.7 L261.2 213.1 L266.8 200 L272.5 188.6 L278.1 179.5 L283.7 173.1 L289.4 169.5 L295 168.9 L300.7 171.4 L306.3 176.8 L311.9 184.9 L317.6 195.4 L323.2 207.8 L328.8 221.8 L334.5 236.7 L340.1 252.2 L345.8 267.7 L351.4 282.8 L357 297.1 L362.7 310.4 L368.3 322.4 L373.9 333 L379.6 342.2 L385.2 349.8 L390.8 356 L396.5 360.9 L402.1 364.5 L407.8 367 L413.4 368.5 L419 369.1 L424.7 369.1 L430.3 368.4 L435.9 367.3 L441.6 365.8 L447.2 364.1 L452.9 362.2 L458.5 360.2 L464.1 358.2 L469.8 356.2 L475.4 354.3 L481 352.6 L486.7 351 L492.3 349.7 L497.9 348.7 L503.6 348 L509.2 347.6 L514.9 347.5 L520.5 347.8 L526.1 348.4 L531.8 349.3 L537.4 350.5 L543 351.9 L548.7 353.6 L554.3 355.5 L560 357.6 L565.6 359.8 L571.2 362.1 L576.9 364.4 L582.5 366.7 L588.1 369 L593.8 371.2 L599.4 373.4 L605.1 375.5 L610.7 377.4 L616.3 379.2 L622 380.9 L627.6 382.4 L633.2 383.7"/>
<path d="M182.3 366.3 L187.9 361.4 L193.6 355.9 L199.2 349.7 L204.8 342.9 L210.5 335.5 L216.1 327.5 L221.7 319 L227.4 310.1 L233 300.9 L238.6 291.5 L244.3 282 L249.9 272.7 L255.6 263.7 L261.2 255.2 L266.8 247.4 L272.5 240.4 L278.1 234.4 L283.7 229.6 L289.4 226.1 L295 223.9 L300.7 223.1 L306.3 223.8 L311.9 225.9 L317.6 229.3 L323.2 234 L328.8 239.9 L334.5 246.8 L340.1 254.5 L345.8 262.8 L351.4 271.7 L357 280.8 L362.7 290 L368.3 299.1 L373.9 308 L379.6 316.5 L385.2 324.4 L390.8 331.7 L396.5 338.4 L402.1 344.2 L407.8 349.2 L413.4 353.4 L419 356.8 L424.7 359.3 L430.3 361.1 L435.9 362 L441.6 362.3 L447.2 361.9 L452.9 361 L458.5 359.5 L464.1 357.7 L469.8 355.5 L475.4 353.1 L481 350.6 L486.7 348 L492.3 345.4 L497.9 343.1 L503.6 340.9 L509.2 339 L514.9 337.5 L520.5 336.4 L526.1 335.8 L531.8 335.7 L537.4 336.1 L543 336.9 L548.7 338.2 L554.3 340 L560 342.1 L565.6 344.6 L571.2 347.4 L576.9 350.4 L582.5 353.5 L588.1 356.8 L593.8 360 L599.4 363.2 L605.1 366.3 L610.7 369.3 L616.3 372.1 L622 374.7 L627.6 377.1 L633.2 379.3"/>
<path d="M182.3 381.5 L187.9 378.1 L193.6 373.8 L199.2 368.4 L204.8 362 L210.5 354.2 L216.1 345.1 L221.7 334.7 L227.4 322.8 L233 309.7 L238.6 295.5 L244.3 280.5 L249.9 264.9 L255.6 249.2 L261.2 233.8 L266.8 219.2 L272.5 206 L278.1 194.5 L283.7 185.3 L289.4 178.7 L295 175 L300.7 174.4 L306.3 176.8 L311.9 182.2 L317.6 190.2 L323.2 200.7 L328.8 213.1 L334.5 226.9 L340.1 241.7 L345.8 256.9 L351.4 272.1 L357 286.8 L362.7 300.6 L368.3 313.2 L373.9 324.5 L379.6 334.3 L385.2 342.6 L390.8 349.3 L396.5 354.6 L402.1 358.5 L407.8 361.1 L413.4 362.6 L419 363.1 L424.7 362.8 L430.3 361.9 L435.9 360.4 L441.6 358.6 L447.2 356.4 L452.9 354.1 L458.5 351.7 L464.1 349.4 L469.8 347.1 L475.4 345.1 L481 343.2 L486.7 341.7 L492.3 340.5 L497.9 339.7 L503.6 339.3 L509.2 339.2 L514.9 339.6 L520.5 340.4 L526.1 341.6 L531.8 343.2 L537.4 345 L543 347.2 L548.7 349.6 L554.3 352.1 L560 354.8 L565.6 357.6 L571.2 360.5 L576.9 363.3 L582.5 366.1 L588.1 368.8 L593.8 371.3 L599.4 373.8 L605.1 376 L610.7 378.1 L616.3 380 L622 381.7 L627.6 383.3 L633.2 384.6"/>
<path d="M182.3 381.2 L187.9 377.5 L193.6 372.9 L199.2 367.1 L204.8 360 L210.5 351.4 L216.1 341.4 L221.7 329.8 L227.4 316.7 L233 302.2 L238.6 286.6 L244.3 270 L249.9 252.9 L255.6 235.9 L261.2 219.4 L266.8 204 L272.5 190.3 L278.1 178.9 L283.7 170.3 L289.4 164.7 L295 162.6 L300.7 163.8 L306.3 168.5 L311.9 176.4 L317.6 187.2 L323.2 200.3 L328.8 215.3 L334.5 231.5 L340.1 248.4 L345.8 265.4 L351.4 282.1 L357 297.9 L362.7 312.5 L368.3 325.8 L373.9 337.4 L379.6 347.5 L385.2 356 L390.8 362.8 L396.5 368.3 L402.1 372.4 L407.8 375.3 L413.4 377.1 L419 378 L424.7 378.2 L430.3 377.6 L435.9 376.5 L441.6 374.8 L447.2 372.7 L452.9 370.3 L458.5 367.6 L464.1 364.6 L469.8 361.5 L475.4 358.3 L481 355.1 L486.7 352 L492.3 349 L497.9 346.2 L503.6 343.7 L509.2 341.5 L514.9 339.8 L520.5 338.5 L526.1 337.7 L531.8 337.4 L537.4 337.7 L543 338.5 L548.7 339.7 L554.3 341.5 L560 343.6 L565.6 346.2 L571.2 349 L576.9 352 L582.5 355.2 L588.1 358.4 L593.8 361.7 L599.4 364.9 L605.1 368 L610.7 370.9 L616.3 373.7 L622 376.2 L627.6 378.5 L633.2 380.6"/>
<path d="M182.3 385.1 L187.9 382.5 L193.6 379.2 L199.2 375 L204.8 369.7 L210.5 363.2 L216.1 355.3 L221.7 345.9 L227.4 334.9 L233 322.4 L238.6 308.4 L244.3 293.1 L249.9 276.7 L255.6 259.7 L261.2 242.3 L266.8 225.3 L272.5 209.1 L278.1 194.3 L283.7 181.5 L289.4 171.3 L295 164 L300.7 160 L306.3 159.4 L311.9 162.3 L317.6 168.5 L323.2 177.7 L328.8 189.6 L334.5 203.5 L340.1 218.9 L345.8 235.2 L351.4 251.8 L357 268.2 L362.7 283.7 L368.3 298.2 L373.9 311.1 L379.6 322.5 L385.2 332 L390.8 339.7 L396.5 345.7 L402.1 350.1 L407.8 353 L413.4 354.6 L419 355.1 L424.7 354.7 L430.3 353.5 L435.9 351.9 L441.6 350 L447.2 347.9 L452.9 345.9 L458.5 343.9 L464.1 342.2 L469.8 340.9 L475.4 339.9 L481 339.4 L486.7 339.4 L492.3 339.9 L497.9 340.9 L503.6 342.4 L509.2 344.3 L514.9 346.6 L520.5 349.2 L526.1 352 L531.8 355.1 L537.4 358.2 L543 361.4 L548.7 364.5 L554.3 367.6 L560 370.5 L565.6 373.3 L571.2 375.9 L576.9 378.2 L582.5 380.3 L588.1 382.2 L593.8 383.9 L599.4 385.3 L605.1 386.5 L610.7 387.6 L616.3 388.4 L622 389.2 L627.6 389.7 L633.2 390.2"/>
<path d="M182.3 387.5 L187.9 385.5 L193.6 382.7 L199.2 378.9 L204.8 373.8 L210.5 367.2 L216.1 358.9 L221.7 348.5 L227.4 336 L233 321.2 L238.6 304.3 L244.3 285.3 L249.9 264.6 L255.6 242.9 L261.2 220.7 L266.8 199 L272.5 178.7 L278.1 160.7 L283.7 146 L289.4 135.3 L295 129.3 L300.7 128.2 L306.3 132.2 L311.9 140.9 L317.6 154 L323.2 170.7 L328.8 190.1 L334.5 211.3 L340.1 233.3 L345.8 255.2 L351.4 276.3 L357 295.9 L362.7 313.6 L368.3 329.1 L373.9 342.2 L379.6 353 L385.2 361.6 L390.8 368.2 L396.5 373.1 L402.1 376.3 L407.8 378.2 L413.4 379 L419 378.9 L424.7 378 L430.3 376.4 L435.9 374.2 L441.6 371.6 L447.2 368.7 L452.9 365.4 L458.5 361.9 L464.1 358.3 L469.8 354.7 L475.4 351.2 L481 347.8 L486.7 344.8 L492.3 342 L497.9 339.8 L503.6 338.1 L509.2 337 L514.9 336.5 L520.5 336.7 L526.1 337.5 L531.8 338.9 L537.4 341 L543 343.5 L548.7 346.4 L554.3 349.6 L560 353.1 L565.6 356.7 L571.2 360.4 L576.9 364 L582.5 367.5 L588.1 370.7 L593.8 373.8 L599.4 376.6 L605.1 379.1 L610.7 381.3 L616.3 383.3 L622 384.9 L627.6 386.3 L633.2 387.5"/>
<path d="M182.3 375.2 L187.9 370.4 L193.6 364.7 L199.2 357.8 L204.8 349.9 L210.5 340.6 L216.1 330.2 L221.7 318.6 L227.4 305.9 L233 292.4 L238.6 278.2 L244.3 263.6 L249.9 249.1 L255.6 234.9 L261.2 221.6 L266.8 209.5 L272.5 199.1 L278.1 190.7 L283.7 184.7 L289.4 181.3 L295 180.5 L300.7 182.5 L306.3 187.2 L311.9 194.3 L317.6 203.6 L323.2 214.8 L328.8 227.5 L334.5 241.3 L340.1 255.7 L345.8 270.3 L351.4 284.7 L357 298.6 L362.7 311.7 L368.3 323.9 L373.9 334.9 L379.6 344.6 L385.2 353.1 L390.8 360.3 L396.5 366.3 L402.1 371.1 L407.8 374.8 L413.4 377.5 L419 379.3 L424.7 380.2 L430.3 380.3 L435.9 379.6 L441.6 378.3 L447.2 376.2 L452.9 373.6 L458.5 370.4 L464.1 366.7 L469.8 362.5 L475.4 358 L481 353.3 L486.7 348.5 L492.3 343.8 L497.9 339.3 L503.6 335.1 L509.2 331.5 L514.9 328.6 L520.5 326.5 L526.1 325.3 L531.8 325 L537.4 325.7 L543 327.3 L548.7 329.7 L554.3 333 L560 336.8 L565.6 341.1 L571.2 345.8 L576.9 350.6 L582.5 355.5 L588.1 360.2 L593.8 364.7 L599.4 368.9 L605.1 372.7 L610.7 376.2 L616.3 379.1 L622 381.7 L627.6 383.9 L633.2 385.6"/>
<path d="M182.3 356.1 L187.9 349.8 L193.6 342.7 L199.2 335.1 L204.8 326.8 L210.5 317.9 L216.1 308.5 L221.7 298.8 L227.4 288.8 L233 278.7 L238.6 268.8 L244.3 259.1 L249.9 249.9 L255.6 241.4 L261.2 233.7 L266.8 227.1 L272.5 221.7 L278.1 217.6 L283.7 215 L289.4 213.9 L295 214.4 L300.7 216.3 L306.3 219.8 L311.9 224.6 L317.6 230.7 L323.2 237.9 L328.8 246.1 L334.5 254.9 L340.1 264.3 L345.8 274.1 L351.4 283.9 L357 293.7 L362.7 303.3 L368.3 312.4 L373.9 321 L379.6 329 L385.2 336.2 L390.8 342.5 L396.5 348 L402.1 352.7 L407.8 356.4 L413.4 359.2 L419 361.2 L424.7 362.4 L430.3 362.8 L435.9 362.5 L441.6 361.7 L447.2 360.3 L452.9 358.5 L458.5 356.4 L464.1 354 L469.8 351.6 L475.4 349.1 L481 346.8 L486.7 344.7 L492.3 342.9 L497.9 341.5 L503.6 340.5 L509.2 340 L514.9 340 L520.5 340.5 L526.1 341.5 L531.8 343 L537.4 345 L543 347.4 L548.7 350 L554.3 353 L560 356 L565.6 359.2 L571.2 362.5 L576.9 365.6 L582.5 368.7 L588.1 371.6 L593.8 374.4 L599.4 376.9 L605.1 379.2 L610.7 381.3 L616.3 383.1 L622 384.6 L627.6 386 L633.2 387.1"/>
<path d="M182.3 382.7 L187.9 379.5 L193.6 375.4 L199.2 370.3 L204.8 364 L210.5 356.3 L216.1 347.3 L221.7 336.7 L227.4 324.8 L233 311.4 L238.6 296.8 L244.3 281.2 L249.9 265 L255.6 248.6 L261.2 232.5 L266.8 217.3 L272.5 203.5 L278.1 191.6 L283.7 182.2 L289.4 175.6 L295 172.2 L300.7 172 L306.3 175.1 L311.9 181.4 L317.6 190.6 L323.2 202.2 L328.8 215.8 L334.5 230.8 L340.1 246.7 L345.8 263 L351.4 279 L357 294.4 L362.7 308.7 L368.3 321.8 L373.9 333.4 L379.6 343.4 L385.2 351.9 L390.8 358.7 L396.5 364.1 L402.1 368 L407.8 370.8 L413.4 372.4 L419 373 L424.7 372.8 L430.3 371.9 L435.9 370.4 L441.6 368.4 L447.2 366 L452.9 363.3 L458.5 360.3 L464.1 357.2 L469.8 354 L475.4 350.9 L481 347.8 L486.7 344.8 L492.3 342.1 L497.9 339.6 L503.6 337.6 L509.2 335.9 L514.9 334.7 L520.5 333.9 L526.1 333.7 L531.8 334 L537.4 334.7 L543 336 L548.7 337.7 L554.3 339.8 L560 342.2 L565.6 345 L571.2 348 L576.9 351.1 L582.5 354.4 L588.1 357.7 L593.8 361 L599.4 364.2 L605.1 367.3 L610.7 370.2 L616.3 373 L622 375.5 L627.6 377.8 L633.2 379.9"/>
<path d="M182.3 368.8 L187.9 364.4 L193.6 359.5 L199.2 354 L204.8 347.9 L210.5 341.2 L216.1 334 L221.7 326.3 L227.4 318.1 L233 309.6 L238.6 300.8 L244.3 291.9 L249.9 282.9 L255.6 274.2 L261.2 265.7 L266.8 257.6 L272.5 250.2 L278.1 243.6 L283.7 237.9 L289.4 233.2 L295 229.6 L300.7 227.3 L306.3 226.2 L311.9 226.3 L317.6 227.7 L323.2 230.3 L328.8 234 L334.5 238.7 L340.1 244.2 L345.8 250.5 L351.4 257.2 L357 264.4 L362.7 271.8 L368.3 279.2 L373.9 286.5 L379.6 293.5 L385.2 300.2 L390.8 306.3 L396.5 311.9 L402.1 316.9 L407.8 321.2 L413.4 324.8 L419 327.9 L424.7 330.3 L430.3 332.2 L435.9 333.6 L441.6 334.6 L447.2 335.4 L452.9 335.9 L458.5 336.2 L464.1 336.5 L469.8 336.9 L475.4 337.3 L481 337.9 L486.7 338.7 L492.3 339.7 L497.9 340.9 L503.6 342.4 L509.2 344.1 L514.9 346.1 L520.5 348.3 L526.1 350.7 L531.8 353.2 L537.4 355.9 L543 358.6 L548.7 361.3 L554.3 364 L560 366.7 L565.6 369.2 L571.2 371.7 L576.9 374 L582.5 376.2 L588.1 378.2 L593.8 380.1 L599.4 381.8 L605.1 383.3 L610.7 384.6 L616.3 385.8 L622 386.8 L627.6 387.7 L633.2 388.4"/>
<path d="M182.3 373.4 L187.9 368.6 L193.6 362.8 L199.2 356 L204.8 348.1 L210.5 339.1 L216.1 329 L221.7 317.8 L227.4 305.7 L233 292.7 L238.6 279.1 L244.3 265.1 L249.9 251.1 L255.6 237.3 L261.2 224.2 L266.8 212 L272.5 201.3 L278.1 192.2 L283.7 185.1 L289.4 180.3 L295 177.9 L300.7 178 L306.3 180.5 L311.9 185.4 L317.6 192.6 L323.2 201.7 L328.8 212.5 L334.5 224.5 L340.1 237.6 L345.8 251.1 L351.4 264.9 L357 278.5 L362.7 291.6 L368.3 304 L373.9 315.5 L379.6 325.9 L385.2 335.1 L390.8 343.1 L396.5 349.9 L402.1 355.4 L407.8 359.8 L413.4 363.2 L419 365.5 L424.7 367.1 L430.3 367.8 L435.9 368 L441.6 367.6 L447.2 366.8 L452.9 365.6 L458.5 364.3 L464.1 362.8 L469.8 361.2 L475.4 359.7 L481 358.2 L486.7 356.8 L492.3 355.7 L497.9 354.7 L503.6 354 L509.2 353.5 L514.9 353.3 L520.5 353.5 L526.1 353.9 L531.8 354.6 L537.4 355.6 L543 356.8 L548.7 358.2 L554.3 359.9 L560 361.7 L565.6 363.6 L571.2 365.6 L576.9 367.6 L582.5 369.7 L588.1 371.7 L593.8 373.7 L599.4 375.7 L605.1 377.5 L610.7 379.2 L616.3 380.8 L622 382.3 L627.6 383.6 L633.2 384.8"/>
<path d="M182.3 388.4 L187.9 386.9 L193.6 384.8 L199.2 382 L204.8 378.3 L210.5 373.6 L216.1 367.6 L221.7 360.2 L227.4 351.1 L233 340.3 L238.6 327.8 L244.3 313.5 L249.9 297.6 L255.6 280.3 L261.2 262 L266.8 243.3 L272.5 224.6 L278.1 206.8 L283.7 190.4 L289.4 176.1 L295 164.7 L300.7 156.5 L306.3 152.1 L311.9 151.6 L317.6 155.1 L323.2 162.2 L328.8 172.8 L334.5 186.1 L340.1 201.7 L345.8 218.8 L351.4 236.6 L357 254.5 L362.7 271.9 L368.3 288.2 L373.9 303 L379.6 316 L385.2 327.2 L390.8 336.3 L396.5 343.5 L402.1 348.9 L407.8 352.6 L413.4 354.9 L419 356 L424.7 356.1 L430.3 355.3 L435.9 354 L441.6 352.3 L447.2 350.4 L452.9 348.4 L458.5 346.4 L464.1 344.5 L469.8 343 L475.4 341.7 L481 340.8 L486.7 340.2 L492.3 340.2 L497.9 340.5 L503.6 341.3 L509.2 342.5 L514.9 344.1 L520.5 346 L526.1 348.2 L531.8 350.7 L537.4 353.4 L543 356.2 L548.7 359.1 L554.3 362 L560 364.9 L565.6 367.7 L571.2 370.4 L576.9 373 L582.5 375.4 L588.1 377.6 L593.8 379.7 L599.4 381.5 L605.1 383.1 L610.7 384.5 L616.3 385.8 L622 386.9 L627.6 387.8 L633.2 388.6"/>
<path d="M182.3 366.5 L187.9 361.2 L193.6 355.1 L199.2 348.3 L204.8 340.7 L210.5 332.4 L216.1 323.3 L221.7 313.7 L227.4 303.5 L233 293 L238.6 282.2 L244.3 271.4 L249.9 260.9 L255.6 250.8 L261.2 241.3 L266.8 232.8 L272.5 225.4 L278.1 219.3 L283.7 214.7 L289.4 211.7 L295 210.4 L300.7 210.8 L306.3 213 L311.9 216.8 L317.6 222.2 L323.2 229 L328.8 237 L334.5 246 L340.1 255.8 L345.8 266.1 L351.4 276.7 L357 287.4 L362.7 298 L368.3 308.3 L373.9 318 L379.6 327.2 L385.2 335.6 L390.8 343.2 L396.5 349.9 L402.1 355.8 L407.8 360.7 L413.4 364.7 L419 367.8 L424.7 370.1 L430.3 371.5 L435.9 372.2 L441.6 372.1 L447.2 371.3 L452.9 370 L458.5 368.1 L464.1 365.7 L469.8 362.9 L475.4 359.7 L481 356.4 L486.7 352.9 L492.3 349.4 L497.9 346 L503.6 342.8 L509.2 339.9 L514.9 337.5 L520.5 335.4 L526.1 334 L531.8 333.1 L537.4 332.9 L543 333.3 L548.7 334.4 L554.3 336.1 L560 338.3 L565.6 341 L571.2 344.1 L576.9 347.4 L582.5 351.1 L588.1 354.8 L593.8 358.5 L599.4 362.2 L605.1 365.8 L610.7 369.2 L616.3 372.4 L622 375.3 L627.6 377.9 L633.2 380.3"/>
<path d="M182.3 375.3 L187.9 370.4 L193.6 364.6 L199.2 357.6 L204.8 349.4 L210.5 339.9 L216.1 329.1 L221.7 317.2 L227.4 304.1 L233 290.1 L238.6 275.4 L244.3 260.4 L249.9 245.5 L255.6 231 L261.2 217.5 L266.8 205.3 L272.5 195 L278.1 186.8 L283.7 181.2 L289.4 178.3 L295 178.3 L300.7 181.1 L306.3 186.6 L311.9 194.7 L317.6 205 L323.2 217 L328.8 230.5 L334.5 244.9 L340.1 259.8 L345.8 274.6 L351.4 289.2 L357 303 L362.7 315.8 L368.3 327.5 L373.9 337.9 L379.6 346.8 L385.2 354.4 L390.8 360.6 L396.5 365.4 L402.1 369 L407.8 371.4 L413.4 372.8 L419 373.3 L424.7 372.8 L430.3 371.7 L435.9 369.9 L441.6 367.6 L447.2 364.8 L452.9 361.7 L458.5 358.3 L464.1 354.7 L469.8 351.1 L475.4 347.6 L481 344.2 L486.7 341.1 L492.3 338.4 L497.9 336.1 L503.6 334.4 L509.2 333.2 L514.9 332.6 L520.5 332.7 L526.1 333.5 L531.8 334.8 L537.4 336.7 L543 339.1 L548.7 342 L554.3 345.2 L560 348.7 L565.6 352.4 L571.2 356.1 L576.9 359.9 L582.5 363.5 L588.1 367 L593.8 370.3 L599.4 373.4 L605.1 376.2 L610.7 378.7 L616.3 381 L622 382.9 L627.6 384.6 L633.2 386"/>
<path d="M182.3 361 L187.9 354.1 L193.6 346.2 L199.2 337.3 L204.8 327.3 L210.5 316.4 L216.1 304.6 L221.7 292.2 L227.4 279.2 L233 266.1 L238.6 253 L244.3 240.3 L249.9 228.3 L255.6 217.3 L261.2 207.8 L266.8 199.9 L272.5 193.9 L278.1 190.1 L283.7 188.5 L289.4 189.3 L295 192.2 L300.7 197.3 L306.3 204.4 L311.9 213.2 L317.6 223.3 L323.2 234.6 L328.8 246.6 L334.5 258.9 L340.1 271.4 L345.8 283.5 L351.4 295.1 L357 306 L362.7 315.9 L368.3 324.8 L373.9 332.5 L379.6 339.1 L385.2 344.5 L390.8 348.9 L396.5 352.1 L402.1 354.5 L407.8 356 L413.4 356.8 L419 357 L424.7 356.8 L430.3 356.1 L435.9 355.3 L441.6 354.2 L447.2 353.1 L452.9 352 L458.5 351 L464.1 350.1 L469.8 349.4 L475.4 348.9 L481 348.7 L486.7 348.7 L492.3 349 L497.9 349.6 L503.6 350.5 L509.2 351.6 L514.9 352.9 L520.5 354.5 L526.1 356.2 L531.8 358.1 L537.4 360.1 L543 362.2 L548.7 364.3 L554.3 366.5 L560 368.6 L565.6 370.7 L571.2 372.8 L576.9 374.8 L582.5 376.6 L588.1 378.4 L593.8 380 L599.4 381.5 L605.1 382.9 L610.7 384.2 L616.3 385.3 L622 386.3 L627.6 387.1 L633.2 387.9"/>
<path d="M182.3 378.7 L187.9 374.6 L193.6 369.5 L199.2 363.3 L204.8 355.9 L210.5 347.2 L216.1 337.1 L221.7 325.7 L227.4 313 L233 299.2 L238.6 284.4 L244.3 269.1 L249.9 253.5 L255.6 238.1 L261.2 223.4 L266.8 209.8 L272.5 197.8 L278.1 188 L283.7 180.6 L289.4 175.9 L295 174.2 L300.7 175.6 L306.3 179.9 L311.9 186.9 L317.6 196.5 L323.2 208.2 L328.8 221.5 L334.5 236 L340.1 251.1 L345.8 266.5 L351.4 281.5 L357 296 L362.7 309.5 L368.3 321.8 L373.9 332.7 L379.6 342.3 L385.2 350.4 L390.8 357 L396.5 362.3 L402.1 366.4 L407.8 369.3 L413.4 371.3 L419 372.3 L424.7 372.7 L430.3 372.4 L435.9 371.6 L441.6 370.4 L447.2 368.9 L452.9 367.1 L458.5 365.2 L464.1 363.1 L469.8 361 L475.4 358.8 L481 356.7 L486.7 354.6 L492.3 352.7 L497.9 350.9 L503.6 349.4 L509.2 348 L514.9 346.9 L520.5 346.1 L526.1 345.6 L531.8 345.3 L537.4 345.4 L543 345.8 L548.7 346.4 L554.3 347.4 L560 348.6 L565.6 350.1 L571.2 351.8 L576.9 353.6 L582.5 355.7 L588.1 357.8 L593.8 360 L599.4 362.3 L605.1 364.6 L610.7 366.9 L616.3 369.1 L622 371.3 L627.6 373.4 L633.2 375.3"/>
<path d="M182.3 361.9 L187.9 356.3 L193.6 350.1 L199.2 343.3 L204.8 335.8 L210.5 327.6 L216.1 319 L221.7 309.9 L227.4 300.4 L233 290.7 L238.6 281 L244.3 271.4 L249.9 262 L255.6 253.2 L261.2 245 L266.8 237.7 L272.5 231.4 L278.1 226.3 L283.7 222.5 L289.4 220.1 L295 219.1 L300.7 219.7 L306.3 221.7 L311.9 225.2 L317.6 230 L323.2 236 L328.8 243 L334.5 251 L340.1 259.6 L345.8 268.8 L351.4 278.3 L357 287.9 L362.7 297.4 L368.3 306.8 L373.9 315.7 L379.6 324.1 L385.2 332 L390.8 339.1 L396.5 345.5 L402.1 351.1 L407.8 355.9 L413.4 359.8 L419 363 L424.7 365.3 L430.3 366.9 L435.9 367.8 L441.6 368 L447.2 367.5 L452.9 366.6 L458.5 365.1 L464.1 363.2 L469.8 361 L475.4 358.5 L481 355.9 L486.7 353.2 L492.3 350.5 L497.9 347.8 L503.6 345.4 L509.2 343.2 L514.9 341.3 L520.5 339.8 L526.1 338.7 L531.8 338.1 L537.4 338 L543 338.3 L548.7 339.2 L554.3 340.5 L560 342.3 L565.6 344.4 L571.2 346.9 L576.9 349.6 L582.5 352.6 L588.1 355.7 L593.8 358.8 L599.4 362 L605.1 365.1 L610.7 368.1 L616.3 370.9 L622 373.6 L627.6 376.1 L633.2 378.4"/>
<path d="M182.3 390.8 L187.9 390.2 L193.6 389.3 L199.2 388 L204.8 386 L210.5 383.2 L216.1 379.4 L221.7 374.2 L227.4 367.3 L233 358.5 L238.6 347.5 L244.3 334.1 L249.9 318.2 L255.6 300 L261.2 279.6 L266.8 257.5 L272.5 234.5 L278.1 211.5 L283.7 189.4 L289.4 169.3 L295 152.4 L300.7 139.6 L306.3 131.8 L311.9 129.2 L317.6 132.3 L323.2 140.6 L328.8 153.8 L334.5 170.9 L340.1 191.1 L345.8 213.1 L351.4 235.9 L357 258.4 L362.7 279.8 L368.3 299.3 L373.9 316.5 L379.6 331.1 L385.2 343 L390.8 352.3 L396.5 359.1 L402.1 363.8 L407.8 366.5 L413.4 367.5 L419 367.2 L424.7 365.8 L430.3 363.5 L435.9 360.6 L441.6 357.1 L447.2 353.4 L452.9 349.5 L458.5 345.5 L464.1 341.7 L469.8 338.1 L475.4 334.9 L481 332.1 L486.7 329.9 L492.3 328.3 L497.9 327.4 L503.6 327.3 L509.2 327.8 L514.9 329 L520.5 330.9 L526.1 333.4 L531.8 336.5 L537.4 339.9 L543 343.7 L548.7 347.7 L554.3 351.8 L560 356 L565.6 360 L571.2 364 L576.9 367.7 L582.5 371.1 L588.1 374.3 L593.8 377.1 L599.4 379.6 L605.1 381.8 L610.7 383.7 L616.3 385.3 L622 386.7 L627.6 387.8 L633.2 388.7"/>
<path d="M182.3 360.6 L187.9 355 L193.6 348.7 L199.2 341.7 L204.8 334.2 L210.5 326 L216.1 317.3 L221.7 308.2 L227.4 298.8 L233 289.1 L238.6 279.4 L244.3 269.8 L249.9 260.5 L255.6 251.7 L261.2 243.6 L266.8 236.2 L272.5 229.9 L278.1 224.8 L283.7 220.9 L289.4 218.4 L295 217.4 L300.7 217.8 L306.3 219.6 L311.9 222.9 L317.6 227.5 L323.2 233.3 L328.8 240.1 L334.5 247.9 L340.1 256.3 L345.8 265.3 L351.4 274.7 L357 284.2 L362.7 293.6 L368.3 302.8 L373.9 311.7 L379.6 320.1 L385.2 327.8 L390.8 334.9 L396.5 341.1 L402.1 346.6 L407.8 351.1 L413.4 354.9 L419 357.7 L424.7 359.8 L430.3 361 L435.9 361.5 L441.6 361.3 L447.2 360.6 L452.9 359.3 L458.5 357.6 L464.1 355.6 L469.8 353.3 L475.4 351 L481 348.7 L486.7 346.4 L492.3 344.4 L497.9 342.7 L503.6 341.3 L509.2 340.3 L514.9 339.8 L520.5 339.8 L526.1 340.4 L531.8 341.4 L537.4 342.9 L543 344.8 L548.7 347.1 L554.3 349.7 L560 352.6 L565.6 355.7 L571.2 358.8 L576.9 362 L582.5 365.2 L588.1 368.2 L593.8 371.1 L599.4 373.9 L605.1 376.4 L610.7 378.8 L616.3 380.8 L622 382.7 L627.6 384.3 L633.2 385.7"/>
<path d="M182.3 381 L187.9 377.6 L193.6 373.5 L199.2 368.4 L204.8 362.3 L210.5 355.2 L216.1 346.8 L221.7 337.3 L227.4 326.6 L233 314.8 L238.6 302 L244.3 288.5 L249.9 274.3 L255.6 260 L261.2 245.8 L266.8 232.2 L272.5 219.4 L278.1 208.1 L283.7 198.5 L289.4 190.9 L295 185.8 L300.7 183.1 L306.3 183.2 L311.9 185.9 L317.6 191.1 L323.2 198.6 L328.8 208.2 L334.5 219.5 L340.1 232 L345.8 245.4 L351.4 259.2 L357 273.1 L362.7 286.6 L368.3 299.4 L373.9 311.3 L379.6 322 L385.2 331.3 L390.8 339.3 L396.5 345.9 L402.1 351.1 L407.8 355 L413.4 357.5 L419 359 L424.7 359.4 L430.3 359 L435.9 357.8 L441.6 356.1 L447.2 353.9 L452.9 351.5 L458.5 348.9 L464.1 346.2 L469.8 343.7 L475.4 341.3 L481 339.3 L486.7 337.6 L492.3 336.4 L497.9 335.7 L503.6 335.5 L509.2 335.8 L514.9 336.7 L520.5 338.1 L526.1 340 L531.8 342.3 L537.4 344.9 L543 347.9 L548.7 351 L554.3 354.3 L560 357.7 L565.6 361.1 L571.2 364.4 L576.9 367.6 L582.5 370.6 L588.1 373.4 L593.8 376 L599.4 378.4 L605.1 380.5 L610.7 382.4 L616.3 384.1 L622 385.5 L627.6 386.7 L633.2 387.7"/>
<path d="M182.3 364.5 L187.9 359.5 L193.6 353.9 L199.2 347.7 L204.8 340.9 L210.5 333.6 L216.1 325.7 L221.7 317.4 L227.4 308.7 L233 299.7 L238.6 290.7 L244.3 281.6 L249.9 272.8 L255.6 264.2 L261.2 256.2 L266.8 248.8 L272.5 242.3 L278.1 236.8 L283.7 232.3 L289.4 229.1 L295 227.1 L300.7 226.5 L306.3 227.2 L311.9 229.2 L317.6 232.4 L323.2 236.8 L328.8 242.2 L334.5 248.6 L340.1 255.6 L345.8 263.2 L351.4 271.2 L357 279.4 L362.7 287.6 L368.3 295.6 L373.9 303.3 L379.6 310.7 L385.2 317.4 L390.8 323.5 L396.5 329 L402.1 333.6 L407.8 337.6 L413.4 340.7 L419 343.1 L424.7 344.9 L430.3 346 L435.9 346.5 L441.6 346.5 L447.2 346.2 L452.9 345.5 L458.5 344.6 L464.1 343.6 L469.8 342.5 L475.4 341.5 L481 340.6 L486.7 339.9 L492.3 339.4 L497.9 339.2 L503.6 339.4 L509.2 339.8 L514.9 340.6 L520.5 341.7 L526.1 343.1 L531.8 344.8 L537.4 346.8 L543 349.1 L548.7 351.5 L554.3 354 L560 356.7 L565.6 359.4 L571.2 362.2 L576.9 364.9 L582.5 367.5 L588.1 370.1 L593.8 372.5 L599.4 374.8 L605.1 376.9 L610.7 378.9 L616.3 380.6 L622 382.3 L627.6 383.7 L633.2 385"/>
<path d="M182.3 370.5 L187.9 365.4 L193.6 359.5 L199.2 352.6 L204.8 344.8 L210.5 336.1 L216.1 326.5 L221.7 316.2 L227.4 305.1 L233 293.6 L238.6 281.8 L244.3 270 L249.9 258.4 L255.6 247.3 L261.2 237.1 L266.8 228 L272.5 220.3 L278.1 214.2 L283.7 210 L289.4 207.8 L295 207.7 L300.7 209.6 L306.3 213.5 L311.9 219.3 L317.6 226.8 L323.2 235.7 L328.8 245.7 L334.5 256.6 L340.1 268.1 L345.8 279.9 L351.4 291.6 L357 303 L362.7 313.9 L368.3 324.1 L373.9 333.4 L379.6 341.8 L385.2 349.2 L390.8 355.5 L396.5 360.7 L402.1 364.9 L407.8 368 L413.4 370.2 L419 371.5 L424.7 371.9 L430.3 371.5 L435.9 370.4 L441.6 368.6 L447.2 366.2 L452.9 363.4 L458.5 360.1 L464.1 356.5 L469.8 352.7 L475.4 348.7 L481 344.7 L486.7 340.8 L492.3 337 L497.9 333.6 L503.6 330.5 L509.2 327.9 L514.9 325.8 L520.5 324.4 L526.1 323.6 L531.8 323.5 L537.4 324.2 L543 325.5 L548.7 327.4 L554.3 329.9 L560 332.9 L565.6 336.4 L571.2 340.2 L576.9 344.2 L582.5 348.3 L588.1 352.5 L593.8 356.6 L599.4 360.7 L605.1 364.5 L610.7 368.1 L616.3 371.5 L622 374.5 L627.6 377.3 L633.2 379.7"/>
<path d="M182.3 382.6 L187.9 379.4 L193.6 375.2 L199.2 370 L204.8 363.6 L210.5 355.9 L216.1 346.7 L221.7 336.1 L227.4 324 L233 310.5 L238.6 295.8 L244.3 280.1 L249.9 263.9 L255.6 247.5 L261.2 231.5 L266.8 216.4 L272.5 202.7 L278.1 191.1 L283.7 182 L289.4 175.8 L295 172.8 L300.7 173 L306.3 176.6 L311.9 183.2 L317.6 192.7 L323.2 204.5 L328.8 218.3 L334.5 233.3 L340.1 249.1 L345.8 265 L351.4 280.7 L357 295.5 L362.7 309.2 L368.3 321.5 L373.9 332.3 L379.6 341.4 L385.2 348.8 L390.8 354.6 L396.5 358.9 L402.1 361.7 L407.8 363.3 L413.4 363.9 L419 363.5 L424.7 362.3 L430.3 360.5 L435.9 358.3 L441.6 355.7 L447.2 352.8 L452.9 349.9 L458.5 347 L464.1 344.1 L469.8 341.4 L475.4 339 L481 336.9 L486.7 335.2 L492.3 333.9 L497.9 333.1 L503.6 332.8 L509.2 333 L514.9 333.7 L520.5 334.9 L526.1 336.5 L531.8 338.6 L537.4 341 L543 343.7 L548.7 346.7 L554.3 349.8 L560 353.1 L565.6 356.4 L571.2 359.7 L576.9 362.9 L582.5 366.1 L588.1 369.1 L593.8 371.9 L599.4 374.5 L605.1 376.9 L610.7 379.1 L616.3 381.1 L622 382.8 L627.6 384.3 L633.2 385.6"/>
<path d="M182.3 389.2 L187.9 387.9 L193.6 386 L199.2 383.5 L204.8 380 L210.5 375.3 L216.1 369.3 L221.7 361.6 L227.4 352 L233 340.3 L238.6 326.4 L244.3 310.4 L249.9 292.2 L255.6 272.3 L261.2 251.1 L266.8 229.1 L272.5 207.3 L278.1 186.3 L283.7 167.2 L289.4 150.8 L295 138 L300.7 129.5 L306.3 125.7 L311.9 126.8 L317.6 132.8 L323.2 143.2 L328.8 157.7 L334.5 175.2 L340.1 195.1 L345.8 216.4 L351.4 238 L357 259.3 L362.7 279.4 L368.3 297.8 L373.9 314.2 L379.6 328.3 L385.2 340 L390.8 349.4 L396.5 356.6 L402.1 361.8 L407.8 365.3 L413.4 367.4 L419 368.2 L424.7 368 L430.3 367 L435.9 365.5 L441.6 363.6 L447.2 361.4 L452.9 359 L458.5 356.7 L464.1 354.4 L469.8 352.3 L475.4 350.4 L481 348.8 L486.7 347.6 L492.3 346.8 L497.9 346.4 L503.6 346.4 L509.2 346.9 L514.9 347.8 L520.5 349 L526.1 350.7 L531.8 352.6 L537.4 354.9 L543 357.3 L548.7 359.9 L554.3 362.5 L560 365.2 L565.6 367.9 L571.2 370.5 L576.9 373.1 L582.5 375.4 L588.1 377.6 L593.8 379.7 L599.4 381.5 L605.1 383.2 L610.7 384.6 L616.3 385.9 L622 387 L627.6 387.9 L633.2 388.7"/>
<path d="M182.3 366 L187.9 361 L193.6 355.3 L199.2 349 L204.8 342 L210.5 334.4 L216.1 326.2 L221.7 317.5 L227.4 308.4 L233 299 L238.6 289.5 L244.3 280 L249.9 270.7 L255.6 261.8 L261.2 253.4 L266.8 245.8 L272.5 239.2 L278.1 233.7 L283.7 229.4 L289.4 226.5 L295 225 L300.7 224.9 L306.3 226.4 L311.9 229.2 L317.6 233.5 L323.2 238.9 L328.8 245.4 L334.5 252.9 L340.1 261 L345.8 269.8 L351.4 278.8 L357 288 L362.7 297.1 L368.3 306 L373.9 314.5 L379.6 322.5 L385.2 329.9 L390.8 336.5 L396.5 342.4 L402.1 347.4 L407.8 351.6 L413.4 355 L419 357.5 L424.7 359.3 L430.3 360.3 L435.9 360.7 L441.6 360.4 L447.2 359.6 L452.9 358.4 L458.5 356.7 L464.1 354.7 L469.8 352.6 L475.4 350.3 L481 347.9 L486.7 345.6 L492.3 343.4 L497.9 341.3 L503.6 339.5 L509.2 338 L514.9 336.8 L520.5 336 L526.1 335.6 L531.8 335.6 L537.4 336 L543 336.9 L548.7 338.1 L554.3 339.7 L560 341.7 L565.6 343.9 L571.2 346.4 L576.9 349.1 L582.5 352 L588.1 354.9 L593.8 357.9 L599.4 360.9 L605.1 363.8 L610.7 366.7 L616.3 369.4 L622 372 L627.6 374.4 L633.2 376.7"/>
</g>
<path d="M183.2 386.2 C185 385.4 190.4 384.2 194.3 381.6 C198.2 379 202.4 375.7 206.4 370.5 C210.4 365.3 214.4 358.4 218.5 350.3 C222.6 342.2 227 331.4 230.7 322 C234.4 312.6 237.3 303.9 240.7 293.8 C244 283.7 247.4 272.3 250.8 261.5 C254.2 250.7 257.5 239.6 260.9 229.2 C264.3 218.8 268 207 271 198.9 C274 190.8 276.4 185.6 279.1 180.7 C281.8 175.8 284.5 172 287.2 169.6 C289.9 167.2 292.5 166.2 295.2 166.2 C297.9 166.2 300.6 167.3 303.3 169.6 C306 171.8 308.4 174.8 311.4 179.7 C314.4 184.6 318.1 191.7 321.5 198.9 C324.9 206.1 328.2 214.5 331.6 223.1 C335 231.7 338.3 241.3 341.7 250.4 C345.1 259.5 348.4 269 351.8 277.6 C355.2 286.2 358.5 294.5 361.9 301.9 C365.2 309.3 368.5 315.9 371.9 322 C375.2 328.1 378.6 333.6 382 338.2 C385.4 342.8 388.7 346.3 392.1 349.3 C395.5 352.3 398.8 354.3 402.2 356 C405.6 357.7 409.1 358.7 412.3 359.4 C415.5 360.1 417 360.6 421.1 360.2 C425.2 359.8 431 359 436.9 357 C442.8 355 450.1 350.9 456.7 348.3 C463.3 345.7 470.6 342.6 476.5 341.2 C482.4 339.8 487 339.6 492.3 339.6 C497.6 339.6 502.2 339.8 508.2 341.2 C514.1 342.6 520.8 345.1 528 348.3 C535.2 351.5 543.8 356.4 551.7 360.2 C559.6 364 567.6 368.3 575.5 371.3 C583.4 374.3 589.8 376.1 599.2 378 C608.6 379.9 626.5 381.9 632 382.7" fill="none" stroke="#32a373" stroke-width="8" stroke-linejoin="round"/>
<path d="M160.1 102V405.4" stroke="#bfbfbf" stroke-width="2.85"/>
<path d="M158.7 405.4H656.9" stroke="#bfbfbf" stroke-width="2.85"/>
<text x="94.5" y="400.4" font-size="24" fill="#6e6e6e">0.000</text>
<text x="94.5" y="324.3" font-size="24" fill="#6e6e6e">0.025</text>
<text x="94.5" y="248.2" font-size="24" fill="#6e6e6e">0.050</text>
<text x="94.5" y="172.1" font-size="24" fill="#6e6e6e">0.075</text>
<text x="142.6" y="427.7" font-size="24" fill="#6e6e6e">-</text>
<path transform="translate(150.6 427.7) scale(0.01172 -0.01172)" d="M763 0H583V1147Q518 1085 412.5 1023Q307 961 223 930V1104Q374 1175 487 1276Q600 1377 647 1472H763Z" fill="#6e6e6e"/>
<text x="163.9" y="427.7" font-size="24" fill="#6e6e6e">0</text>
<text x="265.1" y="427.7" font-size="24" fill="#6e6e6e">0</text>
<path transform="translate(370.4 427.7) scale(0.01172 -0.01172)" d="M763 0H583V1147Q518 1085 412.5 1023Q307 961 223 930V1104Q374 1175 487 1276Q600 1377 647 1472H763Z" fill="#6e6e6e"/>
<text x="383.7" y="427.7" font-size="24" fill="#6e6e6e">0</text>
<text x="482.3" y="427.7" font-size="24" fill="#6e6e6e">20</text>
<text x="594.2" y="427.7" font-size="24" fill="#6e6e6e">30</text>
<text x="407.8" y="466" font-size="26.7" fill="#404040" text-anchor="middle" >percent</text>
<text transform="translate(45.4 254.4) rotate(-90)" font-size="26.7" fill="#404040" text-anchor="middle">Density</text>
<text x="27.5" y="51" font-size="32" fill="#000" text-anchor="start" >Posterior Predictive Check</text>
<text x="27.5" y="84.1" font-size="26.67" fill="#000" text-anchor="start" >Model-predicted lines should resemble observed data line</text>
<path d="M162 508H198" stroke="#32a373" stroke-width="2.3"/>
<text x="216.5" y="516" font-size="24" fill="#404040" text-anchor="start" >Observed data</text>
<path d="M391.5 508H427.5" stroke="#1b5a9e" stroke-width="2.3"/>
<text x="446" y="516" font-size="24" fill="#404040" text-anchor="start" >Model-predicted data</text>
</g>
<g id="p2">
<path d="M820.5 395H1316" stroke="#ebebeb" stroke-width="1.42"/>
<path d="M820.5 312.7H1316" stroke="#ebebeb" stroke-width="1.42"/>
<path d="M820.5 230.3H1316" stroke="#ebebeb" stroke-width="1.42"/>
<path d="M820.5 148H1316" stroke="#ebebeb" stroke-width="1.42"/>
<path d="M886.4 103.4V405.4" stroke="#ebebeb" stroke-width="1.42"/>
<path d="M979 103.4V405.4" stroke="#ebebeb" stroke-width="1.42"/>
<path d="M1071.5 103.4V405.4" stroke="#ebebeb" stroke-width="1.42"/>
<path d="M1164.1 103.4V405.4" stroke="#ebebeb" stroke-width="1.42"/>
<path d="M1256.7 103.4V405.4" stroke="#ebebeb" stroke-width="1.42"/>
<path d="M820.5 353.8H1316" stroke="#dfdfdf" stroke-width="2.85"/>
<path d="M820.5 271.5H1316" stroke="#dfdfdf" stroke-width="2.85"/>
<path d="M820.5 189.2H1316" stroke="#dfdfdf" stroke-width="2.85"/>
<path d="M820.5 106.9H1316" stroke="#dfdfdf" stroke-width="2.85"/>
<path d="M840.1 103.4V405.4" stroke="#dfdfdf" stroke-width="2.85"/>
<path d="M932.7 103.4V405.4" stroke="#dfdfdf" stroke-width="2.85"/>
<path d="M1025.2 103.4V405.4" stroke="#dfdfdf" stroke-width="2.85"/>
<path d="M1117.8 103.4V405.4" stroke="#dfdfdf" stroke-width="2.85"/>
<path d="M1210.4 103.4V405.4" stroke="#dfdfdf" stroke-width="2.85"/>
<path d="M1303 103.4V405.4" stroke="#dfdfdf" stroke-width="2.85"/>
<g fill="#1b5a9e" fill-opacity="0.8">
<circle cx="1293.1" cy="117" r="5.85"/>
<circle cx="1200.1" cy="177.8" r="5.85"/>
<circle cx="889.5" cy="216.3" r="5.85"/>
<circle cx="920" cy="223.1" r="5.85"/>
<circle cx="892.2" cy="233.4" r="5.85"/>
<circle cx="984.8" cy="213.2" r="5.85"/>
<circle cx="984.8" cy="240.6" r="5.85"/>
<circle cx="870.8" cy="250.9" r="5.85"/>
<circle cx="889.5" cy="257.7" r="5.85"/>
<circle cx="843" cy="261.2" r="5.85"/>
<circle cx="852.1" cy="257.3" r="5.85"/>
<circle cx="852.1" cy="257.3" r="5.85"/>
<circle cx="870.8" cy="264" r="5.85"/>
<circle cx="870.8" cy="264" r="5.85"/>
<circle cx="920" cy="264" r="5.85"/>
<circle cx="920" cy="264" r="5.85"/>
<circle cx="1200.1" cy="246.5" r="5.85"/>
<circle cx="1293.1" cy="254.1" r="5.85"/>
<circle cx="843" cy="274.3" r="5.85"/>
<circle cx="843" cy="274.3" r="5.85"/>
<circle cx="852.1" cy="271.6" r="5.85"/>
<circle cx="892.2" cy="275.1" r="5.85"/>
<circle cx="852.1" cy="285.1" r="5.85"/>
<circle cx="852.1" cy="285.1" r="5.85"/>
<circle cx="889.5" cy="285.1" r="5.85"/>
<circle cx="889.5" cy="285.1" r="5.85"/>
<circle cx="870.8" cy="305.7" r="5.85"/>
<circle cx="892.2" cy="302.2" r="5.85"/>
<circle cx="889.5" cy="312.5" r="5.85"/>
<circle cx="920" cy="332.7" r="5.85"/>
<circle cx="984.8" cy="308.9" r="5.85"/>
<circle cx="984.8" cy="322.8" r="5.85"/>
<circle cx="1200.1" cy="287.5" r="5.85"/>
<circle cx="1200.1" cy="315.3" r="5.85"/>
<circle cx="1200.1" cy="328.8" r="5.85"/>
<circle cx="1293.1" cy="322.8" r="5.85"/>
<circle cx="1293.1" cy="391.2" r="5.85"/>
</g>
<path d="M843.2 231.7 C844.1 233.2 846.3 238.3 848.7 240.5 C851.1 242.7 854.1 244.4 857.6 245 C861.1 245.6 865.5 244.3 869.8 243.9 C874 243.5 878.3 242.3 883.1 242.3 C887.9 242.3 894.6 243.8 898.6 243.9 C902.6 244 904.5 244.3 907.4 242.8 C910.3 241.3 913.3 237.2 916.3 235 C919.2 232.8 921.4 230.8 925.1 229.5 C928.8 228.2 933.6 227.5 938.4 227.3 C943.2 227.2 950.3 228.3 953.9 228.6 C957.5 228.9 957.9 229 960 229.2 C962.1 229.4 964.5 229.8 966.8 229.7 C969.1 229.6 971.5 229.5 973.7 228.8 C975.9 228.1 978 227 980 225.4 C982 223.8 984 221.6 986 219.5 C988 217.4 989.4 215.9 991.9 213 C994.4 210.1 998 205.7 1001 201.9 C1004 198.1 1006.9 193.4 1010.1 190 C1013.3 186.6 1017.4 183.5 1020 181.4 C1022.6 179.3 1022.8 178.9 1025.8 177.4 C1028.8 175.9 1034.1 173.5 1038 172.3 C1041.9 171.1 1045.4 170.5 1049.1 170.4 C1052.8 170.3 1055.5 170.2 1060.2 171.6 C1064.9 173 1070.5 175.4 1077 178.6 C1083.5 181.8 1091.7 186.3 1099.1 190.7 C1106.5 195.1 1113.9 200.8 1121.3 205.1 C1128.7 209.3 1136 213.3 1143.4 216.2 C1150.8 219.1 1158.2 220.6 1165.6 222.4 C1173 224.2 1180.3 225.2 1187.7 226.8 C1195.1 228.4 1202.4 230.1 1209.8 231.7 C1217.2 233.2 1225.3 235.2 1232 236.1 C1238.7 237 1244.2 237.4 1249.7 237.2 C1255.2 237 1260 236.5 1265.2 235 C1270.4 233.5 1276 230.6 1280.7 228.4 C1285.4 226.2 1291.4 222.8 1293.5 221.7 L1293.5 321.5 C1291.4 320.4 1285.4 317 1280.7 314.8 C1276 312.6 1270.4 309.7 1265.2 308.2 C1260 306.7 1255.2 306.2 1249.7 306 C1244.2 305.8 1238.7 306.2 1232 307.1 C1225.3 308 1217.2 310 1209.8 311.5 C1202.4 313.1 1195.1 314.9 1187.7 316.4 C1180.3 318 1173 319 1165.6 320.8 C1158.2 322.6 1150.8 324.1 1143.4 327 C1136 329.9 1128.7 333.9 1121.3 338.1 C1113.9 342.4 1106.5 348.1 1099.1 352.5 C1091.7 356.9 1083.5 361.4 1077 364.6 C1070.5 367.8 1064.9 370.2 1060.2 371.6 C1055.5 373 1052.8 372.9 1049.1 372.8 C1045.4 372.7 1041.9 372.1 1038 370.9 C1034.1 369.7 1028.8 367.3 1025.8 365.8 C1022.8 364.3 1022.6 363.9 1020 361.8 C1017.4 359.7 1013.3 356.6 1010.1 353.2 C1006.9 349.8 1004 345.1 1001 341.3 C998 337.5 994.4 333.1 991.9 330.2 C989.4 327.3 988 325.8 986 323.7 C984 321.6 982 319.4 980 317.8 C978 316.3 975.9 315.1 973.7 314.4 C971.5 313.7 969.1 313.6 966.8 313.5 C964.5 313.4 962.1 313.8 960 314 C957.9 314.2 957.5 314.3 953.9 314.6 C950.3 314.9 943.2 316.1 938.4 315.9 C933.6 315.8 928.8 315 925.1 313.7 C921.4 312.4 919.2 310.4 916.3 308.2 C913.3 306 910.3 301.9 907.4 300.4 C904.5 298.9 902.6 299.2 898.6 299.3 C894.6 299.4 887.9 300.9 883.1 300.9 C878.3 300.9 874 299.8 869.8 299.3 C865.5 298.9 861.1 297.6 857.6 298.2 C854.1 298.8 851.1 300.5 848.7 302.7 C846.3 304.9 844.1 310 843.2 311.5 Z" fill="#999" fill-opacity="0.22"/>
<path d="M843 271.5H1293.1" stroke="#32a373" stroke-width="4.55"/>
<path d="M821.2 271.5H1316" stroke="#000" stroke-width="2.6" stroke-dasharray="10.66 10.6"/>
<path d="M820.5 102V405.4" stroke="#bfbfbf" stroke-width="2.85"/>
<path d="M819.1 405.4H1317.4" stroke="#bfbfbf" stroke-width="2.85"/>
<text x="793.6" y="362.4" font-size="24" fill="#6e6e6e">-4</text>
<text x="801.6" y="280.1" font-size="24" fill="#6e6e6e">0</text>
<text x="801.6" y="197.8" font-size="24" fill="#6e6e6e">4</text>
<text x="801.6" y="115.5" font-size="24" fill="#6e6e6e">8</text>
<text x="833.4" y="427.7" font-size="24" fill="#6e6e6e">0</text>
<text x="926" y="427.7" font-size="24" fill="#6e6e6e">5</text>
<path transform="translate(1011.9 427.7) scale(0.01172 -0.01172)" d="M763 0H583V1147Q518 1085 412.5 1023Q307 961 223 930V1104Q374 1175 487 1276Q600 1377 647 1472H763Z" fill="#6e6e6e"/>
<text x="1025.2" y="427.7" font-size="24" fill="#6e6e6e">0</text>
<path transform="translate(1104.5 427.7) scale(0.01172 -0.01172)" d="M763 0H583V1147Q518 1085 412.5 1023Q307 961 223 930V1104Q374 1175 487 1276Q600 1377 647 1472H763Z" fill="#6e6e6e"/>
<text x="1117.8" y="427.7" font-size="24" fill="#6e6e6e">5</text>
<text x="1197.1" y="427.7" font-size="24" fill="#6e6e6e">20</text>
<text x="1289.6" y="427.7" font-size="24" fill="#6e6e6e">25</text>
<text x="1068" y="466" font-size="26.7" fill="#404040" text-anchor="middle" >Fitted values</text>
<text transform="translate(702 254.4) rotate(-90)" font-size="26.7" fill="#404040" text-anchor="middle">Residuals</text>
<text x="682.5" y="51" font-size="32" fill="#000" text-anchor="start" >Linearity</text>
<text x="682.5" y="84.1" font-size="26.67" fill="#000" text-anchor="start" >Reference line should be flat and horizontal</text>
</g>
<g id="p3">
<path d="M160.1 869.7H655.5" stroke="#ebebeb" stroke-width="1.42"/>
<path d="M160.1 795.7H655.5" stroke="#ebebeb" stroke-width="1.42"/>
<path d="M160.1 721.7H655.5" stroke="#ebebeb" stroke-width="1.42"/>
<path d="M160.1 647.7H655.5" stroke="#ebebeb" stroke-width="1.42"/>
<path d="M225.7 619.1V921.1" stroke="#ebebeb" stroke-width="1.42"/>
<path d="M318.2 619.1V921.1" stroke="#ebebeb" stroke-width="1.42"/>
<path d="M410.8 619.1V921.1" stroke="#ebebeb" stroke-width="1.42"/>
<path d="M503.3 619.1V921.1" stroke="#ebebeb" stroke-width="1.42"/>
<path d="M595.9 619.1V921.1" stroke="#ebebeb" stroke-width="1.42"/>
<path d="M160.1 906.7H655.5" stroke="#dfdfdf" stroke-width="2.85"/>
<path d="M160.1 832.7H655.5" stroke="#dfdfdf" stroke-width="2.85"/>
<path d="M160.1 758.7H655.5" stroke="#dfdfdf" stroke-width="2.85"/>
<path d="M160.1 684.7H655.5" stroke="#dfdfdf" stroke-width="2.85"/>
<path d="M179.4 619.1V921.1" stroke="#dfdfdf" stroke-width="2.85"/>
<path d="M272 619.1V921.1" stroke="#dfdfdf" stroke-width="2.85"/>
<path d="M364.5 619.1V921.1" stroke="#dfdfdf" stroke-width="2.85"/>
<path d="M457.1 619.1V921.1" stroke="#dfdfdf" stroke-width="2.85"/>
<path d="M549.6 619.1V921.1" stroke="#dfdfdf" stroke-width="2.85"/>
<path d="M642.2 619.1V921.1" stroke="#dfdfdf" stroke-width="2.85"/>
<g fill="#1b5a9e" fill-opacity="0.8">
<circle cx="182.5" cy="836.3" r="5.85"/>
<circle cx="182.5" cy="866.4" r="5.85"/>
<circle cx="182.5" cy="866.4" r="5.85"/>
<circle cx="191.6" cy="826.5" r="5.85"/>
<circle cx="191.6" cy="826.5" r="5.85"/>
<circle cx="191.6" cy="906.9" r="5.85"/>
<circle cx="210.2" cy="777.6" r="5.85"/>
<circle cx="210.2" cy="806.6" r="5.85"/>
<circle cx="210.2" cy="849.1" r="5.85"/>
<circle cx="210.2" cy="849.1" r="5.85"/>
<circle cx="228.6" cy="745.9" r="5.85"/>
<circle cx="228.6" cy="767.6" r="5.85"/>
<circle cx="231.9" cy="771.6" r="5.85"/>
<circle cx="231.9" cy="784.5" r="5.85"/>
<circle cx="228.6" cy="826.5" r="5.85"/>
<circle cx="228.6" cy="826.5" r="5.85"/>
<circle cx="231.9" cy="866.4" r="5.85"/>
<circle cx="231.9" cy="866.4" r="5.85"/>
<circle cx="259.6" cy="733.3" r="5.85"/>
<circle cx="259.6" cy="754.1" r="5.85"/>
<circle cx="259.6" cy="849.1" r="5.85"/>
<circle cx="259.6" cy="849.1" r="5.85"/>
<circle cx="324.5" cy="738.4" r="5.85"/>
<circle cx="324.5" cy="748.8" r="5.85"/>
<circle cx="324.5" cy="771.2" r="5.85"/>
<circle cx="324.5" cy="784.5" r="5.85"/>
<circle cx="539.6" cy="697.4" r="5.85"/>
<circle cx="539.6" cy="742.2" r="5.85"/>
<circle cx="539.6" cy="763.2" r="5.85"/>
<circle cx="539.6" cy="798.8" r="5.85"/>
<circle cx="539.6" cy="818.8" r="5.85"/>
<circle cx="632.8" cy="632.8" r="5.85"/>
<circle cx="632.8" cy="665.1" r="5.85"/>
<circle cx="632.8" cy="748.8" r="5.85"/>
<circle cx="632.8" cy="815.9" r="5.85"/>
</g>
<path d="M182.5 820.3 C184.5 819.8 189.7 820 194.3 817 C198.9 814 204.5 808 210.2 802.6 C215.9 797.2 222.8 789.5 228.6 784.9 C234.4 780.3 240 779.2 245.2 775 C250.4 770.8 254.8 763.8 259.6 759.4 C264.4 755 268.6 751.7 274 748.4 C279.4 745.1 285.8 742.5 291.7 739.5 C297.6 736.5 303.9 734.6 309.4 730.7 C314.9 726.8 319.7 722.4 324.5 716.3 C329.3 710.2 334.1 700.6 338.2 694.1 C342.3 687.6 345.5 682.3 349.2 677.5 C352.9 672.7 356.6 668.6 360.3 665.3 C364 662 367.3 659.5 371.4 657.6 C375.5 655.7 379.9 654.2 384.7 653.8 C389.5 653.4 395.6 654.4 400.2 655.4 C404.8 656.4 407.5 656.5 412 659.5 C416.5 662.5 420.9 668.1 427.1 673.1 C433.3 678.1 441.9 684.4 449.3 689.7 C456.7 695.1 464 700.8 471.4 705.2 C478.8 709.6 486.2 713.6 493.6 716.3 C501 719 508 720.5 515.7 721.4 C523.4 722.2 532.2 721.9 539.6 721.4 C547 720.9 552.9 720.1 560 718.5 C567.1 716.9 574.7 714.9 582.1 711.8 C589.5 708.7 598 703.9 604.3 699.7 C610.6 695.5 615 691 619.7 686.4 C624.5 681.8 630.6 674.4 632.8 672 L632.8 762.1 C630.6 762.2 624.5 762.1 619.7 762.8 C615 763.5 610.6 764.3 604.3 766.1 C598 767.9 589.5 770.3 582.1 773.8 C574.7 777.3 567.1 782.7 560 787.1 C552.9 791.5 545.5 796.7 539.6 800 C533.7 803.3 530.3 805 524.5 807 C518.7 809 511.6 810.2 504.6 811.9 C497.6 813.6 490.4 815 482.5 817 C474.6 819 465.7 821.2 457.2 823.6 C448.7 826 439.1 829.1 431.6 831.4 C424.1 833.7 417.2 836.4 412 837.5 C406.8 838.6 404.8 838.1 400.2 838 C395.6 837.9 390.6 838 384.7 836.9 C378.8 835.8 370.6 833.8 364.7 831.4 C358.8 829 353.6 825.5 349.2 822.5 C344.8 819.5 342.3 816.5 338.2 813.7 C334.1 810.9 328.2 807.2 324.5 805.9 C320.8 804.6 319.2 805 316 805.9 C312.8 806.8 309.8 808.7 305 811.5 C300.2 814.3 292.8 819.4 287.3 822.5 C281.8 825.6 276.4 829 271.8 830.3 C267.2 831.6 264 830.7 259.6 830.3 C255.2 829.9 249.4 828.3 245.2 828.1 C240.9 827.9 237.8 827.9 234.1 829.2 C230.4 830.5 227.1 832.7 223.1 835.8 C219.1 838.9 213.9 844.3 210.2 848 C206.5 851.7 204.3 853.4 200.9 858 C197.5 862.6 192.9 869.6 189.8 875.7 C186.7 881.8 183.7 891.4 182.5 894.5 Z" fill="#999" fill-opacity="0.22"/>
<path d="M182.5 855.7 C184.5 852.8 189.7 843.9 194.3 838 C198.9 832.1 204.5 825.5 210.2 820.3 C215.9 815.1 223.1 810.1 228.6 807 C234.1 803.9 237.8 803.3 243 801.5 C248.2 799.7 253 798.8 259.6 796 C266.2 793.2 275.2 788.8 282.8 784.9 C290.4 781 298.1 776.6 305 772.7 C311.9 768.8 318.6 764.9 324.5 761.6 C330.4 758.3 335.2 755.2 340.4 752.8 C345.6 750.4 350.7 748.6 355.9 747.3 C361.1 746 366.6 745.5 371.4 745 C376.2 744.5 379.9 744.4 384.7 744.6 C389.5 744.8 395.8 745.5 400.2 746.2 C404.6 746.9 405.8 747.3 411 748.8 C416.2 750.3 423.9 752.9 431.6 755 C439.3 757.1 448.7 759.8 457.2 761.6 C465.7 763.4 474.6 764.8 482.5 765.6 C490.4 766.4 497.6 766.7 504.6 766.5 C511.6 766.3 518.7 765.5 524.5 764.5 C530.3 763.5 533.7 762.3 539.6 760.5 C545.5 758.7 552.9 756.1 560 753.5 C567.1 750.9 574.7 747.8 582.1 744.6 C589.5 741.4 595.8 738.9 604.3 734.4 C612.8 729.9 628 720.6 632.8 717.8" fill="none" stroke="#32a373" stroke-width="4.55"/>
<path d="M160.1 617.7V921.1" stroke="#bfbfbf" stroke-width="2.85"/>
<path d="M158.7 921.1H656.9" stroke="#bfbfbf" stroke-width="2.85"/>
<text x="121.1" y="915.3" font-size="24" fill="#6e6e6e">0.0</text>
<text x="121.1" y="841.3" font-size="24" fill="#6e6e6e">0.5</text>
<path transform="translate(121.1 767.3) scale(0.01172 -0.01172)" d="M763 0H583V1147Q518 1085 412.5 1023Q307 961 223 930V1104Q374 1175 487 1276Q600 1377 647 1472H763Z" fill="#6e6e6e"/>
<text x="134.5" y="767.3" font-size="24" fill="#6e6e6e">.0</text>
<path transform="translate(121.1 693.3) scale(0.01172 -0.01172)" d="M763 0H583V1147Q518 1085 412.5 1023Q307 961 223 930V1104Q374 1175 487 1276Q600 1377 647 1472H763Z" fill="#6e6e6e"/>
<text x="134.5" y="693.3" font-size="24" fill="#6e6e6e">.5</text>
<text x="172.7" y="943.4" font-size="24" fill="#6e6e6e">0</text>
<text x="265.3" y="943.4" font-size="24" fill="#6e6e6e">5</text>
<path transform="translate(351.2 943.4) scale(0.01172 -0.01172)" d="M763 0H583V1147Q518 1085 412.5 1023Q307 961 223 930V1104Q374 1175 487 1276Q600 1377 647 1472H763Z" fill="#6e6e6e"/>
<text x="364.5" y="943.4" font-size="24" fill="#6e6e6e">0</text>
<path transform="translate(443.7 943.4) scale(0.01172 -0.01172)" d="M763 0H583V1147Q518 1085 412.5 1023Q307 961 223 930V1104Q374 1175 487 1276Q600 1377 647 1472H763Z" fill="#6e6e6e"/>
<text x="457.1" y="943.4" font-size="24" fill="#6e6e6e">5</text>
<text x="536.3" y="943.4" font-size="24" fill="#6e6e6e">20</text>
<text x="628.8" y="943.4" font-size="24" fill="#6e6e6e">25</text>
<text x="407.8" y="981.7" font-size="26.7" fill="#404040" text-anchor="middle" >Fitted values</text>
<g transform="translate(52.4 764.5) rotate(-90)"><text x="0" y="0" font-size="26.7" fill="#404040" text-anchor="middle">|Std. residuals|</text><path d="M-101.5 -4.9L-97.9 -6.6L-94.4 6.2L-90.1 -24.5H90.2" fill="none" stroke="#404040" stroke-width="1.7"/></g>
<text x="27.5" y="566.7" font-size="32" fill="#000" text-anchor="start" >Homogeneity of Variance</text>
<text x="27.5" y="599.8" font-size="26.67" fill="#000" text-anchor="start" >Reference line should be flat and horizontal</text>
</g>
<g id="p4">
<clipPath id="cp4"><rect x="820" y="619.1" width="497" height="302"/></clipPath>
<path d="M820.5 673.1H1316" stroke="#ebebeb" stroke-width="1.42"/>
<path d="M820.5 753.8H1316" stroke="#ebebeb" stroke-width="1.42"/>
<path d="M820.5 834.6H1316" stroke="#ebebeb" stroke-width="1.42"/>
<path d="M820.5 915.3H1316" stroke="#ebebeb" stroke-width="1.42"/>
<path d="M887.7 619.1V921.1" stroke="#ebebeb" stroke-width="1.42"/>
<path d="M977.9 619.1V921.1" stroke="#ebebeb" stroke-width="1.42"/>
<path d="M1068.1 619.1V921.1" stroke="#ebebeb" stroke-width="1.42"/>
<path d="M1158.3 619.1V921.1" stroke="#ebebeb" stroke-width="1.42"/>
<path d="M1248.5 619.1V921.1" stroke="#ebebeb" stroke-width="1.42"/>
<path d="M820.5 632.7H1316" stroke="#dfdfdf" stroke-width="2.85"/>
<path d="M820.5 713.5H1316" stroke="#dfdfdf" stroke-width="2.85"/>
<path d="M820.5 794.2H1316" stroke="#dfdfdf" stroke-width="2.85"/>
<path d="M820.5 875H1316" stroke="#dfdfdf" stroke-width="2.85"/>
<path d="M842.6 619.1V921.1" stroke="#dfdfdf" stroke-width="2.85"/>
<path d="M932.8 619.1V921.1" stroke="#dfdfdf" stroke-width="2.85"/>
<path d="M1023 619.1V921.1" stroke="#dfdfdf" stroke-width="2.85"/>
<path d="M1113.2 619.1V921.1" stroke="#dfdfdf" stroke-width="2.85"/>
<path d="M1203.4 619.1V921.1" stroke="#dfdfdf" stroke-width="2.85"/>
<path d="M1293.6 619.1V921.1" stroke="#dfdfdf" stroke-width="2.85"/>
<path d="M821 632.7H1316" stroke="#8c8c8c" stroke-width="2.6" stroke-dasharray="10.66 10.6"/>
<path d="M843.3 526.3V921.1" stroke="#8c8c8c" stroke-width="2.6" stroke-dasharray="10.66 10.6" clip-path="url(#cp4)"/>
<text x="1259.5" y="657.2" font-size="21.3" fill="#32a373" text-anchor="middle" >0.9</text>
<circle cx="1203.4" cy="632.8" r="5.85" fill="#1b5a9e"/><circle cx="1293.6" cy="632.8" r="5.85" fill="#1b5a9e"/>
<g stroke="#1b5a9e" stroke-width="2.4" stroke-linecap="round"><path d="M1293.6 632.8L1252.3 659.3"/><path d="M1293.6 632.8L1266 637"/><path d="M1293.6 632.8V676"/></g>
<text x="1165.2" y="656.5" font-size="21.3" fill="#1b5a9e">24</text>
<text x="1237.7" y="645.8" font-size="21.3" fill="#1b5a9e">27</text>
<path transform="translate(1281.5 661.8) scale(0.01040 -0.01040)" d="M763 0H583V1147Q518 1085 412.5 1023Q307 961 223 930V1104Q374 1175 487 1276Q600 1377 647 1472H763Z" fill="#1b5a9e"/>
<path transform="translate(1293.3 661.8) scale(0.01040 -0.01040)" d="M763 0H583V1147Q518 1085 412.5 1023Q307 961 223 930V1104Q374 1175 487 1276Q600 1377 647 1472H763Z" fill="#1b5a9e"/>
<path transform="translate(1237.9 680.8) scale(0.01040 -0.01040)" d="M763 0H583V1147Q518 1085 412.5 1023Q307 961 223 930V1104Q374 1175 487 1276Q600 1377 647 1472H763Z" fill="#1b5a9e"/>
<text x="1249.7" y="680.8" font-size="21.3" fill="#1b5a9e">2</text>
<text x="1281.5" y="696.7" font-size="21.3" fill="#1b5a9e">39</text>
<path d="M1203.6 632.6 C1203.8 637.2 1204.4 649 1205.1 660.4 C1205.8 671.8 1206.8 687.2 1207.6 700.7 C1208.4 714.2 1209.4 731.2 1210.1 741.1 C1210.8 751 1211.2 752.6 1211.8 760 C1212.5 767.4 1213.4 776.8 1214.2 785.2 C1215 793.6 1215.6 802.1 1216.4 810.5 C1217.2 818.9 1218.2 828.1 1219.2 835.7 C1220.2 843.3 1221.2 849.7 1222.2 855.9 C1223.2 862.1 1224.3 868 1225.3 873 C1226.3 878 1227.3 882.2 1228.3 886.1 C1229.3 890 1230.4 893.5 1231.3 896.2 C1232.2 898.9 1233.1 900.7 1233.8 902.3 C1234.6 903.9 1235.3 905 1235.9 905.8 C1236.5 906.5 1236.7 906.8 1237.2 906.8 C1237.7 906.8 1238.2 906.5 1238.9 905.8 C1239.6 905 1240.5 904.1 1241.4 902.3 C1242.3 900.5 1243.4 897.9 1244.5 895.2 C1245.5 892.5 1246.5 889.5 1247.5 886.1 C1248.5 882.7 1249.5 879 1250.5 875 C1251.5 871 1252.5 866.4 1253.5 861.9 C1254.5 857.4 1255.6 852.7 1256.6 847.8 C1257.6 842.9 1258.6 837.9 1259.6 832.7 C1260.6 827.5 1261.6 822 1262.6 816.5 C1263.6 811 1264.6 805.3 1265.6 799.4 C1266.6 793.5 1267.8 787.8 1268.7 781.2 C1269.7 774.6 1270.4 766.5 1271.3 760 C1272.2 753.5 1273.1 748.7 1274.2 742 C1275.3 735.3 1276.7 727.5 1277.9 720 C1279.2 712.5 1280.4 704.7 1281.7 697 C1283 689.3 1284.3 681.5 1285.6 674 C1286.9 666.5 1288.3 658.9 1289.6 652 C1290.9 645.1 1292.8 635.8 1293.4 632.6" fill="none" stroke="#32a373" stroke-width="4.55" stroke-linejoin="round"/>
<path d="M1203.4 632.8H1293.6" stroke="#32a373" stroke-width="4.55" stroke-dasharray="18.15 18.15"/>
<path d="M820.5 617.7V921.1" stroke="#bfbfbf" stroke-width="2.85"/>
<path d="M819.1 921.1H1317.4" stroke="#bfbfbf" stroke-width="2.85"/>
<text x="727.5" y="641.3" font-size="24" fill="#6e6e6e">0.0e+00</text>
<text x="719.5" y="722.1" font-size="24" fill="#6e6e6e">-5.0e+</text>
<path transform="translate(788.2 722.1) scale(0.01172 -0.01172)" d="M763 0H583V1147Q518 1085 412.5 1023Q307 961 223 930V1104Q374 1175 487 1276Q600 1377 647 1472H763Z" fill="#6e6e6e"/>
<text x="801.6" y="722.1" font-size="24" fill="#6e6e6e">2</text>
<text x="719.5" y="802.8" font-size="24" fill="#6e6e6e">-</text>
<path transform="translate(727.5 802.8) scale(0.01172 -0.01172)" d="M763 0H583V1147Q518 1085 412.5 1023Q307 961 223 930V1104Q374 1175 487 1276Q600 1377 647 1472H763Z" fill="#6e6e6e"/>
<text x="740.8" y="802.8" font-size="24" fill="#6e6e6e">.0e+</text>
<path transform="translate(788.2 802.8) scale(0.01172 -0.01172)" d="M763 0H583V1147Q518 1085 412.5 1023Q307 961 223 930V1104Q374 1175 487 1276Q600 1377 647 1472H763Z" fill="#6e6e6e"/>
<text x="801.6" y="802.8" font-size="24" fill="#6e6e6e">3</text>
<text x="719.5" y="883.6" font-size="24" fill="#6e6e6e">-</text>
<path transform="translate(727.5 883.6) scale(0.01172 -0.01172)" d="M763 0H583V1147Q518 1085 412.5 1023Q307 961 223 930V1104Q374 1175 487 1276Q600 1377 647 1472H763Z" fill="#6e6e6e"/>
<text x="740.8" y="883.6" font-size="24" fill="#6e6e6e">.5e+</text>
<path transform="translate(788.2 883.6) scale(0.01172 -0.01172)" d="M763 0H583V1147Q518 1085 412.5 1023Q307 961 223 930V1104Q374 1175 487 1276Q600 1377 647 1472H763Z" fill="#6e6e6e"/>
<text x="801.6" y="883.6" font-size="24" fill="#6e6e6e">3</text>
<text x="819.2" y="943.4" font-size="24" fill="#6e6e6e">0.00</text>
<text x="909.4" y="943.4" font-size="24" fill="#6e6e6e">0.05</text>
<text x="999.6" y="943.4" font-size="24" fill="#6e6e6e">0.</text>
<path transform="translate(1019.7 943.4) scale(0.01172 -0.01172)" d="M763 0H583V1147Q518 1085 412.5 1023Q307 961 223 930V1104Q374 1175 487 1276Q600 1377 647 1472H763Z" fill="#6e6e6e"/>
<text x="1033" y="943.4" font-size="24" fill="#6e6e6e">0</text>
<text x="1089.8" y="943.4" font-size="24" fill="#6e6e6e">0.</text>
<path transform="translate(1109.9 943.4) scale(0.01172 -0.01172)" d="M763 0H583V1147Q518 1085 412.5 1023Q307 961 223 930V1104Q374 1175 487 1276Q600 1377 647 1472H763Z" fill="#6e6e6e"/>
<text x="1123.2" y="943.4" font-size="24" fill="#6e6e6e">5</text>
<text x="1180" y="943.4" font-size="24" fill="#6e6e6e">0.20</text>
<text x="1270.2" y="943.4" font-size="24" fill="#6e6e6e">0.25</text>
<text x="1068" y="981.7" font-size="26.7" fill="#404040" text-anchor="middle">Leverage (h<tspan font-size="18.5" dy="5">ii</tspan><tspan dy="-5">)</tspan></text>
<text transform="translate(702 770.1) rotate(-90)" font-size="26.7" fill="#404040" text-anchor="middle">Std. Residuals</text>
<text x="682.5" y="566.7" font-size="32" fill="#000" text-anchor="start" >Influential Observations</text>
<text x="682.5" y="599.8" font-size="26.67" fill="#000" text-anchor="start" >Points should be inside the contour lines</text>
</g>
<g id="p5">
<path d="M160.1 1351.6H655.5" stroke="#ebebeb" stroke-width="1.42"/>
<path d="M160.1 1286.6H655.5" stroke="#ebebeb" stroke-width="1.42"/>
<path d="M160.1 1238H655.5" stroke="#ebebeb" stroke-width="1.42"/>
<path d="M160.1 1165.6H655.5" stroke="#ebebeb" stroke-width="1.42"/>
<path d="M160.1 1307.3H655.5" stroke="#dfdfdf" stroke-width="2.85"/>
<path d="M160.1 1266H655.5" stroke="#dfdfdf" stroke-width="2.85"/>
<path d="M160.1 1210H655.5" stroke="#dfdfdf" stroke-width="2.85"/>
<path d="M160.1 1121.3H655.5" stroke="#dfdfdf" stroke-width="2.85"/>
<path d="M252.8 1094.1V1396.1" stroke="#dfdfdf" stroke-width="2.85"/>
<path d="M407.6 1094.1V1396.1" stroke="#dfdfdf" stroke-width="2.85"/>
<path d="M562.4 1094.1V1396.1" stroke="#dfdfdf" stroke-width="2.85"/>
<rect x="160.1" y="1094.1" width="495.4" height="115.9" fill="#c5101c" fill-opacity="0.155"/>
<rect x="160.1" y="1210" width="495.4" height="56" fill="#1b5a9e" fill-opacity="0.14"/>
<rect x="160.1" y="1266" width="495.4" height="130.1" fill="#32a373" fill-opacity="0.15"/>
<path d="M252.8 1183.2V1251.7" stroke="#1b5a9e" stroke-width="4.55"/><circle cx="252.8" cy="1218.4" r="8.6" fill="#1b5a9e"/>
<path d="M407.6 1092V1141.6" stroke="#c5101c" stroke-width="4.55"/><circle cx="407.6" cy="1106" r="8.6" fill="#c5101c"/>
<path d="M562.4 1206.9V1273.8" stroke="#1b5a9e" stroke-width="4.55"/><circle cx="562.4" cy="1241.8" r="8.6" fill="#1b5a9e"/>
<path d="M160.1 1092.7V1396.1" stroke="#bfbfbf" stroke-width="2.85"/>
<path d="M158.7 1396.1H656.9" stroke="#bfbfbf" stroke-width="2.85"/>
<path transform="translate(141.2 1404.6) scale(0.01172 -0.01172)" d="M763 0H583V1147Q518 1085 412.5 1023Q307 961 223 930V1104Q374 1175 487 1276Q600 1377 647 1472H763Z" fill="#6e6e6e"/>
<text x="141.2" y="1315.9" font-size="24" fill="#6e6e6e">3</text>
<text x="141.2" y="1274.6" font-size="24" fill="#6e6e6e">5</text>
<path transform="translate(127.8 1218.6) scale(0.01172 -0.01172)" d="M763 0H583V1147Q518 1085 412.5 1023Q307 961 223 930V1104Q374 1175 487 1276Q600 1377 647 1472H763Z" fill="#6e6e6e"/>
<text x="141.2" y="1218.6" font-size="24" fill="#6e6e6e">0</text>
<text x="127.8" y="1129.9" font-size="24" fill="#6e6e6e">30</text>
<text x="252.8" y="1418.4" font-size="24" fill="#6e6e6e" text-anchor="middle" >coast</text>
<text x="407.6" y="1418.4" font-size="24" fill="#6e6e6e" text-anchor="middle" >coast:coral_genus</text>
<text x="562.4" y="1418.4" font-size="24" fill="#6e6e6e" text-anchor="middle" >coral_genus</text>
<text transform="translate(46 1245.1) rotate(-90)" font-size="26.7" fill="#404040" text-anchor="middle">Variance Inflation</text>
<text transform="translate(76 1245.1) rotate(-90)" font-size="26.7" fill="#404040" text-anchor="middle">Factor (VIF, log-scaled)</text>
<text x="27.5" y="1041.7" font-size="32" fill="#000" text-anchor="start" >Collinearity</text>
<text x="27.5" y="1074.8" font-size="26.67" fill="#000" text-anchor="start" >High collinearity (VIF) may inflate parameter uncertainty</text>
<path d="M219.8 1480.3V1515.5" stroke="#1b5a9e" stroke-width="4.55"/><circle cx="219.8" cy="1498" r="8.6" fill="#1b5a9e"/>
<text x="257" y="1506.6" font-size="24" fill="#404040" text-anchor="start" >Moderate (&lt; 10)</text>
<path d="M464 1480.3V1515.5" stroke="#c5101c" stroke-width="4.55"/><circle cx="464" cy="1498" r="8.6" fill="#c5101c"/>
<text x="501" y="1506.6" font-size="24" fill="#404040" text-anchor="start" >High (≥ 10)</text>
</g>
<g id="p6">
<path d="M820.5 1387.3H1316" stroke="#ebebeb" stroke-width="1.42"/>
<path d="M820.5 1295.7H1316" stroke="#ebebeb" stroke-width="1.42"/>
<path d="M820.5 1204.1H1316" stroke="#ebebeb" stroke-width="1.42"/>
<path d="M820.5 1112.5H1316" stroke="#ebebeb" stroke-width="1.42"/>
<path d="M840.8 1094.1V1396.1" stroke="#ebebeb" stroke-width="1.42"/>
<path d="M931.2 1094.1V1396.1" stroke="#ebebeb" stroke-width="1.42"/>
<path d="M1021.7 1094.1V1396.1" stroke="#ebebeb" stroke-width="1.42"/>
<path d="M1112.1 1094.1V1396.1" stroke="#ebebeb" stroke-width="1.42"/>
<path d="M1202.6 1094.1V1396.1" stroke="#ebebeb" stroke-width="1.42"/>
<path d="M1293 1094.1V1396.1" stroke="#ebebeb" stroke-width="1.42"/>
<path d="M820.5 1341.5H1316" stroke="#dfdfdf" stroke-width="2.85"/>
<path d="M820.5 1249.9H1316" stroke="#dfdfdf" stroke-width="2.85"/>
<path d="M820.5 1158.3H1316" stroke="#dfdfdf" stroke-width="2.85"/>
<path d="M886 1094.1V1396.1" stroke="#dfdfdf" stroke-width="2.85"/>
<path d="M976.5 1094.1V1396.1" stroke="#dfdfdf" stroke-width="2.85"/>
<path d="M1066.9 1094.1V1396.1" stroke="#dfdfdf" stroke-width="2.85"/>
<path d="M1157.4 1094.1V1396.1" stroke="#dfdfdf" stroke-width="2.85"/>
<path d="M1247.8 1094.1V1396.1" stroke="#dfdfdf" stroke-width="2.85"/>
<path d="M843.2 1234.4 C846.9 1234.8 858.2 1236 865.3 1236.6 C872.4 1237.2 878.5 1237.7 885.9 1237.8 C893.3 1237.9 902 1237.6 909.6 1237.3 C917.2 1237 924.4 1236.6 931.8 1236 C939.2 1235.4 946.4 1234.6 953.9 1233.8 C961.4 1233 969.3 1232.1 976.7 1231.1 C984.1 1230.1 990.8 1229 998.2 1227.8 C1005.7 1226.6 1013.6 1225.4 1021.4 1224 C1029.2 1222.6 1037.1 1221 1044.7 1219.4 C1052.3 1217.8 1061 1215.7 1067.2 1214.5 C1073.4 1213.3 1075.9 1213.7 1082.1 1212.3 C1088.3 1210.9 1096.9 1208.5 1104.3 1206.3 C1111.7 1204.1 1117.6 1202.1 1126.4 1199 C1135.2 1195.9 1148 1191.6 1157.2 1187.9 C1166.4 1184.2 1174 1180.8 1181.8 1176.9 C1189.6 1173 1196.5 1169 1203.9 1164.7 C1211.3 1160.5 1218.7 1155.8 1226 1151.4 C1233.3 1147 1240.1 1142.5 1247.5 1138.1 C1254.9 1133.7 1262.6 1129 1270.3 1124.8 C1278 1120.6 1289.7 1114.7 1293.6 1112.7 L1293.6 1256.8 C1289.7 1256.3 1278 1254.8 1270.3 1254.1 C1262.6 1253.4 1254.9 1253 1247.5 1252.8 C1240.1 1252.6 1233.3 1252.6 1226 1252.8 C1218.7 1253 1211.3 1253.2 1203.9 1253.7 C1196.5 1254.2 1189.6 1254.7 1181.8 1255.5 C1174 1256.3 1166.4 1257.4 1157.2 1258.8 C1148 1260.2 1135.2 1262.4 1126.4 1263.9 C1117.6 1265.4 1111.7 1266.4 1104.3 1267.9 C1096.9 1269.4 1088.3 1271.4 1082.1 1272.7 C1075.9 1274 1073.4 1274.3 1067.2 1275.8 C1061 1277.3 1052.3 1279.5 1044.7 1281.6 C1037.1 1283.7 1029.2 1286 1021.4 1288.2 C1013.6 1290.4 1005.7 1292.6 998.2 1294.9 C990.8 1297.2 984.1 1299.3 976.7 1302 C969.3 1304.7 961.4 1307.7 953.9 1310.8 C946.4 1313.9 939.2 1317.1 931.8 1320.8 C924.4 1324.5 917.2 1328.3 909.6 1332.9 C902 1337.5 893.3 1343.1 885.9 1348.4 C878.5 1353.8 872.4 1359.3 865.3 1365 C858.2 1370.7 846.9 1379.4 843.2 1382.3 Z" fill="#999" fill-opacity="0.22"/>
<g fill="#1b5a9e" fill-opacity="0.8">
<circle cx="843.2" cy="1319.7" r="5.85"/>
<circle cx="889.9" cy="1259.2" r="5.85"/>
<circle cx="914.9" cy="1259.9" r="5.85"/>
<circle cx="933.1" cy="1260.6" r="5.85"/>
<circle cx="947.3" cy="1264.3" r="5.85"/>
<circle cx="959.7" cy="1258.3" r="5.85"/>
<circle cx="970.7" cy="1259" r="5.85"/>
<circle cx="980.2" cy="1259.7" r="5.85"/>
<circle cx="989.8" cy="1258.8" r="5.85"/>
<circle cx="998.4" cy="1257.2" r="5.85"/>
<circle cx="1006.2" cy="1244" r="5.85"/>
<circle cx="1013.9" cy="1243.5" r="5.85"/>
<circle cx="1021.4" cy="1245.3" r="5.85"/>
<circle cx="1028.7" cy="1248.2" r="5.85"/>
<circle cx="1035.4" cy="1250.4" r="5.85"/>
<circle cx="1042" cy="1242" r="5.85"/>
<circle cx="1048.7" cy="1243.3" r="5.85"/>
<circle cx="1055.3" cy="1244.8" r="5.85"/>
<circle cx="1061.9" cy="1247.6" r="5.85"/>
<circle cx="1068.3" cy="1250" r="5.85"/>
<circle cx="1074.6" cy="1248.3" r="5.85"/>
<circle cx="1081" cy="1242.6" r="5.85"/>
<circle cx="1087.7" cy="1244" r="5.85"/>
<circle cx="1094.3" cy="1246.2" r="5.85"/>
<circle cx="1101.4" cy="1249.3" r="5.85"/>
<circle cx="1108.3" cy="1247.3" r="5.85"/>
<circle cx="1115.3" cy="1246.2" r="5.85"/>
<circle cx="1122.9" cy="1248.4" r="5.85"/>
<circle cx="1130.4" cy="1251" r="5.85"/>
<circle cx="1138.6" cy="1249.5" r="5.85"/>
<circle cx="1147" cy="1247.9" r="5.85"/>
<circle cx="1156.3" cy="1247.1" r="5.85"/>
<circle cx="1166" cy="1242.6" r="5.85"/>
<circle cx="1176.9" cy="1238.6" r="5.85"/>
<circle cx="1189.5" cy="1231.6" r="5.85"/>
<circle cx="1203.9" cy="1230.2" r="5.85"/>
<circle cx="1221.8" cy="1230" r="5.85"/>
<circle cx="1246.9" cy="1199.9" r="5.85"/>
<circle cx="1293.6" cy="1112" r="5.85"/>
</g>
<path d="M843.2 1249.9H1293.6" stroke="#32a373" stroke-width="4.55"/>
</g>
<path d="M820.5 1092.7V1396.1" stroke="#bfbfbf" stroke-width="2.85"/>
<path d="M819.1 1396.1H1317.4" stroke="#bfbfbf" stroke-width="2.85"/>
<text x="793.6" y="1350.1" font-size="24" fill="#6e6e6e">-2</text>
<text x="801.6" y="1258.5" font-size="24" fill="#6e6e6e">0</text>
<text x="801.6" y="1166.9" font-size="24" fill="#6e6e6e">2</text>
<text x="875.3" y="1418.4" font-size="24" fill="#6e6e6e">-2</text>
<text x="965.8" y="1418.4" font-size="24" fill="#6e6e6e">-</text>
<path transform="translate(973.8 1418.4) scale(0.01172 -0.01172)" d="M763 0H583V1147Q518 1085 412.5 1023Q307 961 223 930V1104Q374 1175 487 1276Q600 1377 647 1472H763Z" fill="#6e6e6e"/>
<text x="1060.2" y="1418.4" font-size="24" fill="#6e6e6e">0</text>
<path transform="translate(1150.7 1418.4) scale(0.01172 -0.01172)" d="M763 0H583V1147Q518 1085 412.5 1023Q307 961 223 930V1104Q374 1175 487 1276Q600 1377 647 1472H763Z" fill="#6e6e6e"/>
<text x="1241.1" y="1418.4" font-size="24" fill="#6e6e6e">2</text>
<text x="1068" y="1456.7" font-size="26.7" fill="#404040" text-anchor="middle" >Standard Normal Distribution Quantiles</text>
<text transform="translate(702 1245.1) rotate(-90)" font-size="26.7" fill="#404040" text-anchor="middle">Sample Quantile Deviations</text>
<text x="682.5" y="1041.7" font-size="32" fill="#000" text-anchor="start" >Normality of Residuals</text>
<text x="682.5" y="1074.8" font-size="26.67" fill="#000" text-anchor="start" >Dots should fall along the line</text>
</svg></body></html>
